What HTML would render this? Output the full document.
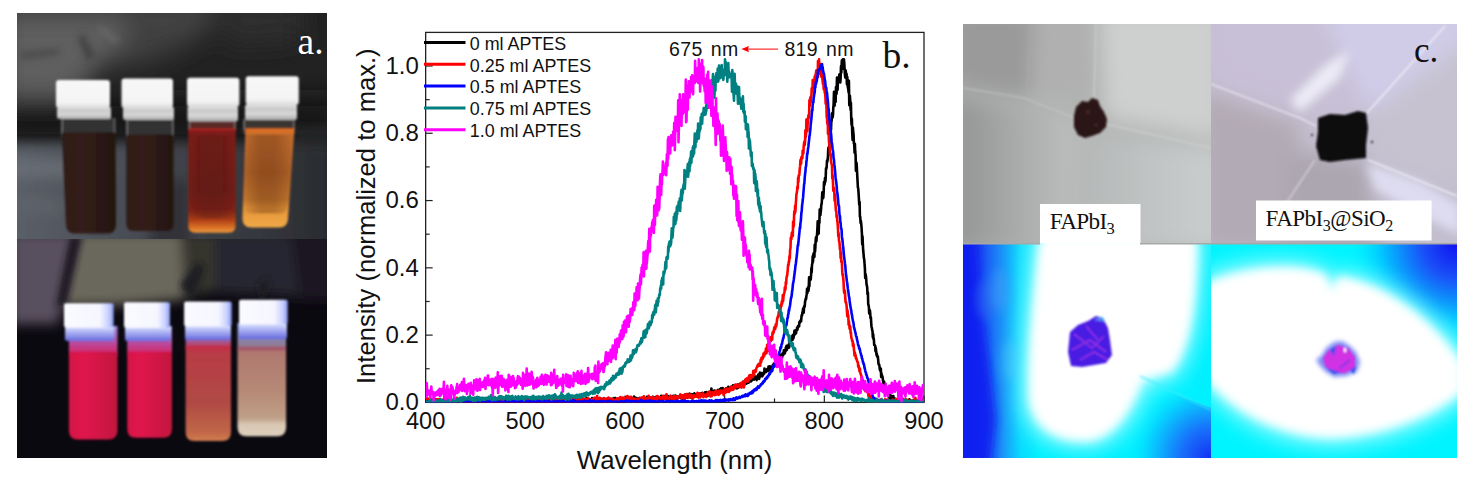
<!DOCTYPE html>
<html><head><meta charset="utf-8"><title>Figure</title>
<style>
html,body{margin:0;padding:0;background:#fff;}
body{width:1474px;height:487px;position:relative;overflow:hidden;font-family:"Liberation Sans", sans-serif;}
.abs{position:absolute;}
</style></head><body>
<svg class="abs" style="left:0;top:0" width="1474" height="487" viewBox="0 0 1474 487">
<defs>
<clipPath id="clipA1"><rect x="17" y="13" width="310" height="226"/></clipPath>
<clipPath id="clipA2"><rect x="17" y="239" width="310" height="219"/></clipPath>
<filter id="ab1" x="-20%" y="-20%" width="140%" height="140%"><feGaussianBlur stdDeviation="0.9"/></filter>
<filter id="ab3" x="-50%" y="-50%" width="200%" height="200%"><feGaussianBlur stdDeviation="3"/></filter>
<filter id="ab6" x="-50%" y="-50%" width="200%" height="200%"><feGaussianBlur stdDeviation="6"/></filter>
<filter id="ab12" x="-50%" y="-50%" width="200%" height="200%"><feGaussianBlur stdDeviation="12"/></filter>
<linearGradient id="capG" x1="0" y1="0" x2="0" y2="1">
 <stop offset="0" stop-color="#f8f8f8"/><stop offset="0.8" stop-color="#f4f4f4"/><stop offset="1" stop-color="#dadada"/></linearGradient>
<linearGradient id="neckG" x1="0" y1="0" x2="0" y2="1">
 <stop offset="0" stop-color="#e4e4e4"/><stop offset="0.3" stop-color="#c8c8c8"/><stop offset="0.6" stop-color="#d8d8d8"/><stop offset="1" stop-color="#a8a8a8"/></linearGradient>
<linearGradient id="tableG" x1="17" y1="0" x2="327" y2="0" gradientUnits="userSpaceOnUse">
 <stop offset="0" stop-color="#5a5f67"/><stop offset="0.3" stop-color="#4c5058"/><stop offset="0.55" stop-color="#3e4148"/><stop offset="0.78" stop-color="#35373d"/><stop offset="1" stop-color="#2a2c30"/></linearGradient>
<linearGradient id="hshade" x1="0" y1="0" x2="1" y2="0">
 <stop offset="0" stop-color="#000" stop-opacity="0"/><stop offset="0.35" stop-color="#401808" stop-opacity="0.3"/><stop offset="0.6" stop-color="#401808" stop-opacity="0.3"/><stop offset="1" stop-color="#000" stop-opacity="0"/></linearGradient>
<linearGradient id="liq1" x1="0" y1="0" x2="1" y2="0">
 <stop offset="0" stop-color="#2e1a16"/><stop offset="0.35" stop-color="#351f1a"/><stop offset="1" stop-color="#22120f"/></linearGradient>
<linearGradient id="liq3" x1="0" y1="0" x2="0" y2="1">
 <stop offset="0" stop-color="#c02020"/><stop offset="0.03" stop-color="#801c1a"/><stop offset="0.6" stop-color="#741c18"/><stop offset="0.78" stop-color="#842218"/><stop offset="0.88" stop-color="#b04018"/><stop offset="0.96" stop-color="#e07a28"/><stop offset="1" stop-color="#e89840"/></linearGradient>
<linearGradient id="liq4" x1="0" y1="0" x2="0" y2="1">
 <stop offset="0" stop-color="#e87020"/><stop offset="0.06" stop-color="#c87030"/><stop offset="0.45" stop-color="#b46428"/><stop offset="0.72" stop-color="#c87a30"/><stop offset="0.8" stop-color="#e69438"/><stop offset="1" stop-color="#f0aa48"/></linearGradient>
<linearGradient id="uvcap" x1="0" y1="0" x2="1" y2="0">
 <stop offset="0" stop-color="#fafbff"/><stop offset="0.72" stop-color="#f6f6ff"/><stop offset="0.9" stop-color="#c8d0ff"/><stop offset="1" stop-color="#8898f0"/></linearGradient>
<linearGradient id="uvneck" x1="0" y1="0" x2="0" y2="1">
 <stop offset="0" stop-color="#e8ecff"/><stop offset="0.3" stop-color="#b8c0f8"/><stop offset="0.7" stop-color="#8c90e8"/><stop offset="1" stop-color="#6068e0"/></linearGradient>
<linearGradient id="uvl1" x1="0" y1="0" x2="1" y2="0">
 <stop offset="0" stop-color="#d41446"/><stop offset="0.3" stop-color="#e0164c"/><stop offset="1" stop-color="#c2123e"/></linearGradient>
<linearGradient id="uvl3" x1="0" y1="0" x2="0" y2="1">
 <stop offset="0" stop-color="#c82848"/><stop offset="0.08" stop-color="#b83c46"/><stop offset="0.6" stop-color="#b04a44"/><stop offset="0.9" stop-color="#c06648"/><stop offset="1" stop-color="#d07c50"/></linearGradient>
<linearGradient id="uvglass3" x1="0" y1="0" x2="0" y2="1">
 <stop offset="0" stop-color="#a098e0"/><stop offset="0.5" stop-color="#9c68b0"/><stop offset="1" stop-color="#b83850"/></linearGradient>
<linearGradient id="uvglass4" x1="0" y1="0" x2="0" y2="1">
 <stop offset="0" stop-color="#98a0e8"/><stop offset="0.5" stop-color="#8088b8"/><stop offset="1" stop-color="#a07078"/></linearGradient>
<linearGradient id="uvl4" x1="0" y1="0" x2="0" y2="1">
 <stop offset="0" stop-color="#a04868"/><stop offset="0.06" stop-color="#b07870"/><stop offset="0.5" stop-color="#b68a76"/><stop offset="0.8" stop-color="#c0a088"/><stop offset="0.87" stop-color="#d8c8b4"/><stop offset="1" stop-color="#dcd0bc"/></linearGradient>
<linearGradient id="uvglass" x1="0" y1="0" x2="0" y2="1">
 <stop offset="0" stop-color="#9c8ce0"/><stop offset="0.45" stop-color="#b058b0"/><stop offset="1" stop-color="#d81c5a"/></linearGradient>
</defs>
<g clip-path="url(#clipA1)">
<rect x="17" y="13" width="310" height="226" fill="#222222"/>
<g filter="url(#ab12)">
<path d="M0,0 L140,0 L125,45 L95,72 L70,100 L0,105 Z" fill="#5e5e5e"/>
<path d="M120,0 L215,0 L205,35 L160,58 L115,70 L125,40 Z" fill="#404040"/>
<path d="M205,0 L300,0 L300,40 L230,45 Z" fill="#2e2e2e"/>
<rect x="0" y="0" width="210" height="18" fill="#474747"/>
<rect x="0" y="98" width="340" height="44" fill="#121214"/>
</g>
<g filter="url(#ab3)" opacity="0.8">
<path d="M82,32 L95,55 L88,62 L78,40 Z" fill="#3c3c3c"/>
<path d="M20,52 L60,48 L58,55 L22,60 Z" fill="#484848"/>
<path d="M100,25 L120,40 L115,44 L98,30 Z" fill="#6a6a6a"/>
</g>
<g filter="url(#ab6)">
<rect x="0" y="143" width="340" height="110" fill="url(#tableG)"/>
<path d="M0,158 L110,162 L110,176 L0,178 Z" fill="#6a7078" opacity="0.8"/>
<path d="M0,195 L60,200 L60,215 L0,212 Z" fill="#60666e" opacity="0.6"/>
<rect x="150" y="180" width="40" height="70" fill="#303238"/>
<rect x="290" y="130" width="50" height="6" fill="#2e3034"/>
</g>
<g filter="url(#ab1)">
<rect x="61" y="118" width="54.5" height="20" fill="#303032"/>
<rect x="61" y="118" width="2" height="16" fill="#8a8a8a" opacity="0.6"/>
<rect x="113.5" y="118" width="2" height="16" fill="#8a8a8a" opacity="0.5"/>
<path d="M62,132.5 L115.5,132.5 L116,224.6 Q116,233.6 107,233.6 L75,233.6 Q66,233.6 66,224.6 Z" fill="url(#liq1)" />
<rect x="57" y="107" width="54" height="12" rx="2" fill="url(#neckG)"/>
<rect x="56" y="80" width="54" height="28" rx="3" fill="url(#capG)"/>
<rect x="126" y="119" width="48" height="22" fill="#303032"/>
<rect x="126" y="119" width="2" height="18" fill="#8a8a8a" opacity="0.6"/>
<rect x="172" y="119" width="2" height="18" fill="#8a8a8a" opacity="0.5"/>
<path d="M126.5,134.8 L173.5,134.8 L173.5,224 Q173.5,231 166.5,231 L133.5,231 Q126.5,231 126.5,224 Z" fill="url(#liq1)" />
<rect x="123" y="107" width="51" height="13" rx="2" fill="url(#neckG)"/>
<rect x="121.5" y="78.5" width="51.5" height="29.5" rx="3" fill="url(#capG)"/>
<rect x="188.3" y="121" width="47.69999999999999" height="13" fill="#5a2c28"/>
<rect x="188.3" y="121" width="2" height="9" fill="#8a8a8a" opacity="0.6"/>
<rect x="234" y="121" width="2" height="9" fill="#8a8a8a" opacity="0.5"/>
<path d="M188.3,128.5 L235.6,128.5 L235.6,225.8 Q235.6,232.8 228.6,232.8 L195.3,232.8 Q188.3,232.8 188.3,225.8 Z" fill="url(#liq3)" />
<path d="M188.3,134.5 L235.6,134.5 L235.6,211.8 Q235.6,218.8 228.6,218.8 L195.3,218.8 Q188.3,218.8 188.3,211.8 Z" fill="url(#hshade)" />
<rect x="187.5" y="106" width="50.5" height="15.599999999999994" rx="2" fill="url(#neckG)"/>
<rect x="187" y="77.7" width="52.400000000000006" height="29.0" rx="3" fill="url(#capG)"/>
<rect x="243" y="119" width="52" height="15" fill="#3a3430"/>
<rect x="243" y="119" width="2" height="11" fill="#8a8a8a" opacity="0.6"/>
<rect x="293" y="119" width="2" height="11" fill="#8a8a8a" opacity="0.5"/>
<path d="M245.5,128.5 L294.5,128.5 L288,218.5 Q288,227.5 279,227.5 L251.4,227.5 Q242.4,227.5 242.4,218.5 Z" fill="url(#liq4)" />
<path d="M245.5,134.5 L294.5,134.5 L288,204.5 Q288,213.5 279,213.5 L251.4,213.5 Q242.4,213.5 242.4,204.5 Z" fill="url(#hshade)" />
<rect x="245" y="104.5" width="52" height="15.5" rx="2" fill="url(#neckG)"/>
<rect x="245.7" y="76.3" width="53.10000000000002" height="28.700000000000003" rx="3" fill="url(#capG)"/>
</g>
<text x="297.5" y="53.6" font-family='"Liberation Serif", serif' font-size="37.5" fill="#fff">a.</text>
</g>
<g clip-path="url(#clipA2)">
<rect x="17" y="239" width="310" height="219" fill="#0b0910"/>
<g filter="url(#ab6)">
<path d="M200,232 L335,232 L335,300 L290,296 L200,292 Z" fill="#282530"/>
<path d="M290,232 L335,232 L335,300 L300,300 Z" fill="#1c1420"/>
<path d="M10,232 L76,232 L62,306 L58,324 L10,324 Z" fill="#584f5e"/>
<path d="M76,232 L185,232 L208,250 L205,285 L180,300 L120,305 L62,306 Z" fill="#6a685c"/>
<path d="M180,232 L215,232 L215,290 L185,298 Z" fill="#36352f"/>
</g>
<g filter="url(#ab3)"><path d="M70,236 L56,306 L66,306 L82,236 Z" fill="#1a1620"/>
<path d="M180,285 L198,262 L205,268 L192,300 Z" fill="#1e1c22"/>
<path d="M258,285 L266,278 L270,284 L262,300 Z" fill="#1e1c22"/></g>
<g filter="url(#ab1)">
<rect x="68.9" y="326" width="48.599999999999994" height="30" fill="url(#uvglass)"/>
<path d="M68.9,352 L117.5,352 L117.5,430.4 Q117.5,439.4 108.5,439.4 L77.9,439.4 Q68.9,439.4 68.9,430.4 Z" fill="url(#uvl1)" />
<rect x="65" y="326" width="49" height="15" rx="2" fill="url(#uvneck)"/>
<rect x="64" y="303.2" width="49.599999999999994" height="24.400000000000034" rx="2" fill="url(#uvcap)"/>
<rect x="127.2" y="326" width="44.8" height="30" fill="url(#uvglass)"/>
<path d="M127.2,352 L172,352 L172,428.8 Q172,437.8 163,437.8 L136.2,437.8 Q127.2,437.8 127.2,428.8 Z" fill="url(#uvl1)" />
<rect x="125" y="326" width="46" height="15" rx="2" fill="url(#uvneck)"/>
<rect x="124" y="302.3" width="46" height="25.5" rx="2" fill="url(#uvcap)"/>
<rect x="185.6" y="325" width="45.400000000000006" height="24.399999999999977" fill="url(#uvglass3)"/>
<path d="M185.6,345.4 L231,345.4 L231,432 Q231,441 222,441 L194.6,441 Q185.6,441 185.6,432 Z" fill="url(#uvl3)" />
<rect x="185" y="325" width="46" height="15" rx="2" fill="url(#uvneck)"/>
<rect x="184.1" y="301.4" width="47.599999999999994" height="24.80000000000001" rx="2" fill="url(#uvcap)"/>
<rect x="237.5" y="323" width="48.60000000000002" height="28" fill="url(#uvglass4)"/>
<path d="M237.5,347 L286.1,347 L286.1,427.2 Q286.1,436.2 277.1,436.2 L246.5,436.2 Q237.5,436.2 237.5,427.2 Z" fill="url(#uvl4)" />
<rect x="239" y="323" width="48" height="16" rx="2" fill="url(#uvneck)"/>
<rect x="239" y="299.7" width="48.69999999999999" height="24.600000000000023" rx="2" fill="url(#uvcap)"/>
</g>
</g>
</svg>
<svg class="abs" width="1474" height="487" viewBox="0 0 1474 487" style="left:0;top:0">
<defs><clipPath id="plotclip"><rect x="425.66" y="32.4" width="498.4" height="370"/></clipPath></defs>
<rect x="425.66" y="32.4" width="498.34" height="370" fill="none" stroke="#222" stroke-width="1.3"/>
<line x1="425.66" y1="402.40" x2="432.66" y2="402.40" stroke="#222" stroke-width="1.2"/>
<line x1="425.66" y1="368.76" x2="429.66" y2="368.76" stroke="#222" stroke-width="1.2"/>
<line x1="425.66" y1="335.12" x2="432.66" y2="335.12" stroke="#222" stroke-width="1.2"/>
<line x1="425.66" y1="301.48" x2="429.66" y2="301.48" stroke="#222" stroke-width="1.2"/>
<line x1="425.66" y1="267.84" x2="432.66" y2="267.84" stroke="#222" stroke-width="1.2"/>
<line x1="425.66" y1="234.20" x2="429.66" y2="234.20" stroke="#222" stroke-width="1.2"/>
<line x1="425.66" y1="200.56" x2="432.66" y2="200.56" stroke="#222" stroke-width="1.2"/>
<line x1="425.66" y1="166.92" x2="429.66" y2="166.92" stroke="#222" stroke-width="1.2"/>
<line x1="425.66" y1="133.28" x2="432.66" y2="133.28" stroke="#222" stroke-width="1.2"/>
<line x1="425.66" y1="99.64" x2="429.66" y2="99.64" stroke="#222" stroke-width="1.2"/>
<line x1="425.66" y1="66.00" x2="432.66" y2="66.00" stroke="#222" stroke-width="1.2"/>
<line x1="425.66" y1="402.4" x2="425.66" y2="395.4" stroke="#222" stroke-width="1.2"/>
<line x1="475.50" y1="402.4" x2="475.50" y2="398.4" stroke="#222" stroke-width="1.2"/>
<line x1="525.33" y1="402.4" x2="525.33" y2="395.4" stroke="#222" stroke-width="1.2"/>
<line x1="575.16" y1="402.4" x2="575.16" y2="398.4" stroke="#222" stroke-width="1.2"/>
<line x1="625.00" y1="402.4" x2="625.00" y2="395.4" stroke="#222" stroke-width="1.2"/>
<line x1="674.84" y1="402.4" x2="674.84" y2="398.4" stroke="#222" stroke-width="1.2"/>
<line x1="724.67" y1="402.4" x2="724.67" y2="395.4" stroke="#222" stroke-width="1.2"/>
<line x1="774.51" y1="402.4" x2="774.51" y2="398.4" stroke="#222" stroke-width="1.2"/>
<line x1="824.34" y1="402.4" x2="824.34" y2="395.4" stroke="#222" stroke-width="1.2"/>
<line x1="874.17" y1="402.4" x2="874.17" y2="398.4" stroke="#222" stroke-width="1.2"/>
<line x1="924.01" y1="402.4" x2="924.01" y2="395.4" stroke="#222" stroke-width="1.2"/>
<g clip-path="url(#plotclip)" fill="none" stroke-width="2.6" stroke-linejoin="round">
<path d="M425.7,401.0 426.0,400.6 426.3,401.1 426.7,402.7 427.0,400.5 427.3,400.9 427.7,401.9 428.0,400.8 428.3,401.0 428.7,401.1 429.0,401.4 429.3,400.8 429.6,402.1 430.0,401.6 430.3,401.9 430.6,400.8 431.0,401.3 431.3,401.7 431.6,402.2 432.0,401.7 432.3,401.4 432.6,401.7 433.0,400.1 433.3,400.4 433.6,403.4 434.0,403.3 434.3,401.6 434.6,401.8 435.0,401.2 435.3,401.2 435.6,399.2 436.0,402.5 436.3,401.8 436.6,399.3 437.0,400.7 437.3,400.7 437.6,401.9 438.0,403.1 438.3,401.2 438.6,401.3 438.9,402.6 439.3,402.1 439.6,401.5 439.9,402.3 440.3,401.5 440.6,401.3 440.9,401.3 441.3,401.9 441.6,400.8 441.9,400.5 442.3,401.0 442.6,402.2 442.9,400.6 443.3,401.9 443.6,400.5 443.9,402.5 444.3,400.4 444.6,401.4 444.9,402.7 445.3,401.7 445.6,401.3 445.9,401.1 446.3,402.4 446.6,402.5 446.9,401.2 447.3,401.8 447.6,401.1 447.9,400.6 448.3,403.1 448.6,401.1 448.9,400.1 449.2,401.7 449.6,402.2 449.9,400.6 450.2,401.1 450.6,400.4 450.9,401.7 451.2,402.9 451.6,401.5 451.9,401.8 452.2,400.6 452.6,401.2 452.9,403.0 453.2,402.6 453.6,400.5 453.9,400.7 454.2,402.0 454.6,401.4 454.9,400.9 455.2,400.9 455.6,400.5 455.9,401.1 456.2,401.4 456.6,401.6 456.9,400.3 457.2,403.4 457.6,401.5 457.9,401.3 458.2,402.8 458.6,401.0 458.9,402.0 459.2,400.5 459.5,401.5 459.9,400.7 460.2,400.1 460.5,400.9 460.9,402.2 461.2,402.9 461.5,399.5 461.9,401.4 462.2,402.0 462.5,401.2 462.9,401.5 463.2,400.5 463.5,401.3 463.9,401.3 464.2,402.1 464.5,400.8 464.9,402.4 465.2,400.6 465.5,399.8 465.9,402.9 466.2,403.4 466.5,400.7 466.9,398.7 467.2,402.3 467.5,402.6 467.9,400.7 468.2,402.2 468.5,401.8 468.9,401.7 469.2,400.8 469.5,401.7 469.8,401.0 470.2,401.5 470.5,402.2 470.8,401.6 471.2,402.3 471.5,401.3 471.8,402.5 472.2,402.4 472.5,399.8 472.8,401.4 473.2,401.4 473.5,400.8 473.8,401.7 474.2,401.5 474.5,400.9 474.8,401.0 475.2,402.5 475.5,400.4 475.8,401.9 476.2,402.4 476.5,402.2 476.8,401.7 477.2,399.6 477.5,402.5 477.8,401.1 478.2,403.4 478.5,401.3 478.8,400.4 479.1,401.5 479.5,401.9 479.8,401.0 480.1,400.6 480.5,400.6 480.8,399.2 481.1,401.1 481.5,401.9 481.8,401.4 482.1,401.3 482.5,401.2 482.8,401.3 483.1,401.1 483.5,403.0 483.8,400.4 484.1,401.8 484.5,402.5 484.8,400.6 485.1,399.9 485.5,400.7 485.8,401.1 486.1,402.2 486.5,398.3 486.8,400.3 487.1,402.4 487.5,402.0 487.8,401.2 488.1,402.8 488.5,401.1 488.8,401.7 489.1,400.0 489.4,400.2 489.8,403.4 490.1,401.2 490.4,402.9 490.8,400.1 491.1,401.1 491.4,400.7 491.8,402.3 492.1,399.3 492.4,399.1 492.8,402.3 493.1,400.8 493.4,401.9 493.8,401.2 494.1,402.5 494.4,399.3 494.8,402.2 495.1,401.5 495.4,400.7 495.8,401.9 496.1,401.4 496.4,401.8 496.8,401.3 497.1,402.4 497.4,401.6 497.8,401.4 498.1,401.5 498.4,401.1 498.8,401.5 499.1,400.4 499.4,401.5 499.7,401.3 500.1,401.9 500.4,401.7 500.7,402.5 501.1,400.6 501.4,402.4 501.7,401.9 502.1,400.8 502.4,400.8 502.7,401.6 503.1,403.2 503.4,400.7 503.7,400.9 504.1,402.6 504.4,400.4 504.7,401.9 505.1,402.3 505.4,401.1 505.7,401.3 506.1,400.9 506.4,402.8 506.7,399.3 507.1,401.8 507.4,402.7 507.7,400.5 508.1,401.5 508.4,400.8 508.7,401.5 509.1,401.2 509.4,400.9 509.7,401.9 510.0,400.4 510.4,401.6 510.7,402.0 511.0,401.1 511.4,400.7 511.7,401.4 512.0,402.0 512.4,400.5 512.7,402.9 513.0,402.2 513.4,401.1 513.7,402.5 514.0,401.1 514.4,401.2 514.7,400.2 515.0,402.0 515.4,401.8 515.7,400.8 516.0,403.4 516.4,397.9 516.7,401.8 517.0,401.8 517.4,400.2 517.7,401.1 518.0,402.9 518.4,400.4 518.7,400.2 519.0,401.6 519.3,401.4 519.7,400.6 520.0,402.0 520.3,400.6 520.7,400.9 521.0,401.8 521.3,402.5 521.7,401.3 522.0,402.0 522.3,400.0 522.7,400.9 523.0,400.3 523.3,400.9 523.7,400.8 524.0,401.9 524.3,400.4 524.7,399.2 525.0,401.4 525.3,401.7 525.7,401.2 526.0,401.5 526.3,401.8 526.7,400.9 527.0,401.3 527.3,399.6 527.7,401.0 528.0,400.7 528.3,400.1 528.7,401.3 529.0,399.6 529.3,401.7 529.6,401.9 530.0,401.4 530.3,401.1 530.6,402.5 531.0,401.1 531.3,402.7 531.6,399.6 532.0,401.1 532.3,401.7 532.6,401.9 533.0,401.4 533.3,401.2 533.6,402.1 534.0,401.9 534.3,401.2 534.6,401.5 535.0,400.0 535.3,399.8 535.6,401.0 536.0,400.5 536.3,402.4 536.6,400.3 537.0,401.0 537.3,400.5 537.6,399.3 538.0,403.3 538.3,400.7 538.6,402.1 539.0,400.4 539.3,402.3 539.6,401.5 539.9,400.8 540.3,400.3 540.6,400.9 540.9,401.8 541.3,401.5 541.6,400.0 541.9,401.0 542.3,402.7 542.6,400.1 542.9,400.5 543.3,400.0 543.6,401.3 543.9,400.1 544.3,402.0 544.6,400.3 544.9,401.4 545.3,400.2 545.6,399.9 545.9,401.7 546.3,401.0 546.6,400.9 546.9,399.7 547.3,400.2 547.6,402.2 547.9,400.4 548.3,400.1 548.6,398.7 548.9,402.6 549.3,401.4 549.6,399.5 549.9,402.3 550.2,402.1 550.6,400.3 550.9,399.8 551.2,401.6 551.6,400.3 551.9,400.7 552.2,399.3 552.6,400.9 552.9,399.8 553.2,401.8 553.6,401.0 553.9,400.9 554.2,399.7 554.6,400.2 554.9,401.6 555.2,400.1 555.6,400.0 555.9,400.9 556.2,401.1 556.6,401.0 556.9,402.6 557.2,400.6 557.6,400.6 557.9,401.7 558.2,400.0 558.6,402.2 558.9,401.4 559.2,401.3 559.6,398.7 559.9,402.4 560.2,400.2 560.5,399.8 560.9,400.4 561.2,399.5 561.5,401.8 561.9,403.1 562.2,400.0 562.5,402.0 562.9,401.1 563.2,402.0 563.5,399.7 563.9,399.8 564.2,401.5 564.5,399.8 564.9,400.6 565.2,400.9 565.5,400.7 565.9,400.9 566.2,400.1 566.5,400.4 566.9,401.1 567.2,399.7 567.5,401.3 567.9,400.4 568.2,400.3 568.5,399.2 568.9,401.2 569.2,398.9 569.5,400.5 569.8,400.9 570.2,401.4 570.5,400.1 570.8,400.6 571.2,401.8 571.5,401.8 571.8,401.2 572.2,401.3 572.5,399.5 572.8,399.2 573.2,399.7 573.5,400.3 573.8,401.1 574.2,400.6 574.5,399.7 574.8,398.4 575.2,399.7 575.5,400.9 575.8,400.6 576.2,401.1 576.5,401.4 576.8,400.8 577.2,400.4 577.5,398.7 577.8,400.5 578.2,399.2 578.5,398.7 578.8,400.5 579.2,398.9 579.5,399.8 579.8,401.0 580.1,400.3 580.5,400.5 580.8,400.8 581.1,400.7 581.5,400.4 581.8,400.1 582.1,401.4 582.5,400.5 582.8,402.1 583.1,400.2 583.5,399.8 583.8,400.3 584.1,400.2 584.5,399.9 584.8,401.2 585.1,400.7 585.5,399.9 585.8,399.4 586.1,400.0 586.5,397.8 586.8,400.5 587.1,399.4 587.5,399.1 587.8,400.6 588.1,401.3 588.5,401.6 588.8,400.2 589.1,399.3 589.5,400.1 589.8,400.2 590.1,400.8 590.4,399.8 590.8,402.6 591.1,400.1 591.4,400.3 591.8,401.8 592.1,398.1 592.4,401.8 592.8,401.5 593.1,401.6 593.4,399.2 593.8,401.3 594.1,399.6 594.4,399.7 594.8,400.0 595.1,401.7 595.4,400.9 595.8,398.6 596.1,401.6 596.4,401.1 596.8,400.4 597.1,399.4 597.4,400.0 597.8,399.5 598.1,401.4 598.4,399.3 598.8,399.7 599.1,401.9 599.4,398.6 599.8,397.8 600.1,401.0 600.4,400.2 600.7,398.8 601.1,401.7 601.4,402.3 601.7,401.5 602.1,400.8 602.4,400.8 602.7,399.5 603.1,399.9 603.4,401.5 603.7,399.6 604.1,398.2 604.4,398.9 604.7,399.1 605.1,400.1 605.4,399.1 605.7,401.1 606.1,399.3 606.4,400.2 606.7,398.9 607.1,399.6 607.4,401.2 607.7,399.9 608.1,398.8 608.4,401.2 608.7,400.6 609.1,400.9 609.4,401.6 609.7,399.0 610.0,398.7 610.4,399.2 610.7,399.8 611.0,400.1 611.4,399.8 611.7,400.8 612.0,399.1 612.4,398.9 612.7,399.0 613.0,400.5 613.4,399.9 613.7,400.1 614.0,398.1 614.4,399.8 614.7,401.9 615.0,399.5 615.4,398.0 615.7,399.2 616.0,399.0 616.4,399.9 616.7,402.0 617.0,401.8 617.4,401.2 617.7,400.0 618.0,399.5 618.4,399.1 618.7,400.2 619.0,398.8 619.4,400.1 619.7,400.6 620.0,398.9 620.3,400.8 620.7,402.7 621.0,400.9 621.3,399.7 621.7,403.0 622.0,400.2 622.3,400.1 622.7,401.3 623.0,401.3 623.3,400.2 623.7,400.3 624.0,398.4 624.3,399.3 624.7,401.4 625.0,400.6 625.3,399.0 625.7,397.7 626.0,399.3 626.3,399.4 626.7,397.7 627.0,399.7 627.3,400.0 627.7,401.1 628.0,400.2 628.3,397.3 628.7,401.1 629.0,399.6 629.3,401.1 629.7,399.4 630.0,398.6 630.3,399.8 630.6,398.8 631.0,398.8 631.3,399.1 631.6,397.7 632.0,398.7 632.3,399.8 632.6,400.2 633.0,400.3 633.3,398.9 633.6,399.8 634.0,396.6 634.3,397.5 634.6,399.6 635.0,399.7 635.3,397.6 635.6,401.3 636.0,399.8 636.3,398.3 636.6,400.3 637.0,399.8 637.3,399.7 637.6,398.6 638.0,399.1 638.3,398.8 638.6,398.6 639.0,399.2 639.3,398.0 639.6,399.9 640.0,400.7 640.3,401.0 640.6,400.8 640.9,399.7 641.3,398.0 641.6,398.9 641.9,399.7 642.3,400.2 642.6,399.6 642.9,399.4 643.3,399.6 643.6,400.5 643.9,399.5 644.3,397.9 644.6,401.2 644.9,399.2 645.3,401.1 645.6,398.7 645.9,399.6 646.3,401.0 646.6,398.7 646.9,396.9 647.3,398.7 647.6,397.5 647.9,398.8 648.3,401.0 648.6,398.2 648.9,399.1 649.3,400.2 649.6,397.8 649.9,398.3 650.2,399.2 650.6,397.7 650.9,399.5 651.2,397.9 651.6,399.5 651.9,397.9 652.2,399.7 652.6,396.9 652.9,398.2 653.2,396.9 653.6,399.3 653.9,398.9 654.2,397.5 654.6,401.3 654.9,399.5 655.2,397.2 655.6,397.8 655.9,397.2 656.2,398.6 656.6,397.6 656.9,399.0 657.2,399.6 657.6,400.0 657.9,398.7 658.2,398.7 658.6,398.8 658.9,401.9 659.2,400.2 659.6,398.6 659.9,397.7 660.2,398.6 660.5,398.9 660.9,400.4 661.2,395.8 661.5,399.1 661.9,396.1 662.2,396.2 662.5,397.5 662.9,398.4 663.2,397.7 663.5,399.0 663.9,397.5 664.2,397.7 664.5,397.1 664.9,396.7 665.2,395.8 665.5,398.1 665.9,396.5 666.2,398.5 666.5,398.5 666.9,398.2 667.2,398.6 667.5,396.5 667.9,396.5 668.2,396.1 668.5,397.5 668.9,397.1 669.2,398.0 669.5,398.6 669.9,396.9 670.2,397.0 670.5,398.5 670.8,396.7 671.2,399.1 671.5,397.4 671.8,397.9 672.2,397.8 672.5,398.3 672.8,396.1 673.2,396.5 673.5,395.8 673.8,396.9 674.2,398.5 674.5,397.4 674.8,398.3 675.2,396.5 675.5,395.6 675.8,396.6 676.2,397.6 676.5,397.3 676.8,396.6 677.2,398.4 677.5,396.6 677.8,396.6 678.2,397.3 678.5,397.2 678.8,396.5 679.2,397.6 679.5,397.5 679.8,395.8 680.2,396.3 680.5,394.7 680.8,397.6 681.1,398.4 681.5,395.4 681.8,395.4 682.1,397.2 682.5,398.0 682.8,396.4 683.1,398.3 683.5,396.7 683.8,398.7 684.1,396.5 684.5,398.5 684.8,396.4 685.1,394.5 685.5,396.4 685.8,395.3 686.1,396.8 686.5,397.0 686.8,397.7 687.1,394.8 687.5,396.0 687.8,394.1 688.1,397.2 688.5,396.1 688.8,395.7 689.1,394.2 689.5,393.7 689.8,396.4 690.1,396.9 690.4,397.6 690.8,394.1 691.1,395.7 691.4,396.3 691.8,395.6 692.1,398.3 692.4,397.4 692.8,394.4 693.1,394.9 693.4,395.2 693.8,396.4 694.1,394.6 694.4,393.3 694.8,396.6 695.1,395.2 695.4,395.6 695.8,394.7 696.1,395.0 696.4,395.2 696.8,396.0 697.1,395.0 697.4,395.6 697.8,395.0 698.1,394.9 698.4,394.1 698.8,395.4 699.1,395.1 699.4,393.5 699.8,394.9 700.1,394.9 700.4,393.6 700.7,394.2 701.1,394.4 701.4,394.2 701.7,395.8 702.1,393.8 702.4,392.8 702.7,393.6 703.1,395.9 703.4,393.8 703.7,395.1 704.1,394.3 704.4,393.9 704.7,395.3 705.1,392.4 705.4,393.9 705.7,392.9 706.1,393.0 706.4,392.2 706.7,392.3 707.1,395.3 707.4,393.5 707.7,395.9 708.1,394.0 708.4,392.6 708.7,392.3 709.1,391.8 709.4,393.7 709.7,392.8 710.1,393.0 710.4,391.6 710.7,391.2 711.0,393.4 711.4,388.6 711.7,392.9 712.0,393.2 712.4,392.1 712.7,391.8 713.0,392.0 713.4,393.3 713.7,390.8 714.0,392.4 714.4,390.6 714.7,390.7 715.0,393.7 715.4,393.3 715.7,393.3 716.0,391.8 716.4,392.0 716.7,391.6 717.0,392.8 717.4,391.3 717.7,390.1 718.0,393.2 718.4,391.8 718.7,391.2 719.0,391.6 719.4,391.6 719.7,389.2 720.0,389.7 720.4,390.2 720.7,392.0 721.0,388.4 721.3,390.5 721.7,391.5 722.0,391.1 722.3,391.2 722.7,388.1 723.0,390.2 723.3,390.3 723.7,392.9 724.0,389.4 724.3,391.4 724.7,391.4 725.0,389.2 725.3,390.9 725.7,388.8 726.0,388.4 726.3,391.7 726.7,389.7 727.0,391.3 727.3,389.4 727.7,388.1 728.0,390.7 728.3,386.9 728.7,389.3 729.0,390.2 729.3,388.9 729.7,387.7 730.0,390.2 730.3,388.4 730.7,390.0 731.0,386.7 731.3,387.9 731.6,388.5 732.0,386.6 732.3,389.3 732.6,388.1 733.0,385.3 733.3,387.6 733.6,385.7 734.0,387.0 734.3,388.0 734.6,387.3 735.0,386.8 735.3,387.3 735.6,387.7 736.0,387.5 736.3,388.3 736.6,386.2 737.0,385.7 737.3,385.2 737.6,388.2 738.0,384.8 738.3,385.7 738.6,387.4 739.0,385.4 739.3,384.3 739.6,384.6 740.0,384.2 740.3,383.8 740.6,383.7 740.9,384.8 741.3,387.2 741.6,385.4 741.9,383.8 742.3,384.7 742.6,383.1 742.9,382.8 743.3,383.6 743.6,381.2 743.9,384.6 744.3,382.0 744.6,383.7 744.9,383.9 745.3,382.0 745.6,383.4 745.9,381.3 746.3,383.8 746.6,382.1 746.9,383.0 747.3,382.1 747.6,382.1 747.9,382.9 748.3,380.4 748.6,382.7 748.9,382.2 749.3,379.6 749.6,379.3 749.9,379.5 750.3,379.8 750.6,377.0 750.9,381.5 751.2,380.7 751.6,380.8 751.9,378.1 752.2,378.8 752.6,377.5 752.9,377.5 753.2,378.9 753.6,379.5 753.9,379.6 754.2,375.1 754.6,376.6 754.9,376.9 755.2,378.0 755.6,377.6 755.9,377.6 756.2,377.4 756.6,380.1 756.9,376.7 757.2,376.9 757.6,375.8 757.9,375.8 758.2,374.7 758.6,375.7 758.9,374.4 759.2,378.9 759.6,376.6 759.9,372.5 760.2,376.4 760.6,374.9 760.9,373.4 761.2,375.4 761.5,373.0 761.9,375.8 762.2,376.3 762.5,375.3 762.9,375.5 763.2,373.0 763.5,373.2 763.9,372.1 764.2,373.8 764.5,368.5 764.9,372.1 765.2,371.8 765.5,370.9 765.9,371.6 766.2,372.0 766.5,370.7 766.9,369.3 767.2,369.4 767.5,368.8 767.9,370.7 768.2,370.8 768.5,366.5 768.9,369.5 769.2,368.2 769.5,367.6 769.9,366.3 770.2,370.2 770.5,368.6 770.9,368.3 771.2,367.8 771.5,370.7 771.8,367.0 772.2,370.9 772.5,365.8 772.8,365.1 773.2,364.7 773.5,367.1 773.8,363.5 774.2,366.0 774.5,366.2 774.8,365.5 775.2,364.9 775.5,363.0 775.8,361.6 776.2,365.8 776.5,363.0 776.8,360.4 777.2,361.1 777.5,360.2 777.8,363.0 778.2,358.7 778.5,362.3 778.8,359.1 779.2,356.8 779.5,355.5 779.8,357.3 780.2,356.3 780.5,358.3 780.8,357.7 781.1,354.5 781.5,356.0 781.8,355.8 782.1,357.5 782.5,354.4 782.8,353.1 783.1,355.1 783.5,354.2 783.8,350.2 784.1,352.1 784.5,352.4 784.8,353.4 785.1,352.1 785.5,350.9 785.8,347.6 786.1,350.6 786.5,345.8 786.8,350.1 787.1,348.5 787.5,345.9 787.8,347.2 788.1,347.8 788.5,345.9 788.8,344.3 789.1,347.7 789.5,344.4 789.8,343.6 790.1,343.5 790.5,340.8 790.8,342.6 791.1,341.6 791.4,340.3 791.8,338.4 792.1,339.5 792.4,335.6 792.8,339.6 793.1,334.8 793.4,338.3 793.8,336.3 794.1,334.7 794.4,330.8 794.8,332.4 795.1,334.3 795.4,330.3 795.8,332.7 796.1,333.2 796.4,330.0 796.8,330.0 797.1,327.6 797.4,329.9 797.8,327.3 798.1,326.0 798.4,325.9 798.8,325.7 799.1,326.3 799.4,322.1 799.8,322.8 800.1,321.1 800.4,321.9 800.8,320.1 801.1,321.3 801.4,317.7 801.7,315.1 802.1,315.3 802.4,312.3 802.7,312.2 803.1,308.5 803.4,310.7 803.7,312.6 804.1,306.3 804.4,306.3 804.7,306.7 805.1,301.3 805.4,300.6 805.7,298.6 806.1,298.9 806.4,296.0 806.7,294.2 807.1,288.7 807.4,293.2 807.7,289.8 808.1,287.2 808.4,291.0 808.7,289.0 809.1,277.2 809.4,286.1 809.7,278.0 810.1,280.1 810.4,278.1 810.7,279.7 811.1,274.8 811.4,268.1 811.7,272.3 812.0,264.6 812.4,263.4 812.7,256.3 813.0,261.6 813.4,254.3 813.7,253.3 814.0,254.8 814.4,256.9 814.7,244.8 815.0,251.8 815.4,246.8 815.7,240.2 816.0,237.3 816.4,241.5 816.7,236.6 817.0,235.2 817.4,228.2 817.7,221.4 818.0,234.1 818.4,222.4 818.7,233.5 819.0,221.2 819.4,223.0 819.7,209.6 820.0,213.9 820.4,215.0 820.7,211.9 821.0,209.9 821.3,204.7 821.7,203.7 822.0,198.2 822.3,192.4 822.7,193.3 823.0,198.4 823.3,197.6 823.7,191.7 824.0,182.0 824.3,185.1 824.7,183.9 825.0,178.0 825.3,181.8 825.7,178.0 826.0,168.3 826.3,168.9 826.7,166.8 827.0,160.6 827.3,161.7 827.7,159.3 828.0,155.5 828.3,147.9 828.7,147.5 829.0,150.5 829.3,143.6 829.7,136.4 830.0,128.0 830.3,139.6 830.7,129.9 831.0,130.0 831.3,122.0 831.6,121.0 832.0,113.2 832.3,115.1 832.6,117.6 833.0,114.9 833.3,107.4 833.6,104.8 834.0,91.8 834.3,93.0 834.6,105.6 835.0,95.3 835.3,102.1 835.6,101.9 836.0,87.2 836.3,86.6 836.6,93.6 837.0,77.5 837.3,90.1 837.6,89.6 838.0,78.1 838.3,78.9 838.6,79.5 839.0,77.5 839.3,74.5 839.6,75.1 840.0,74.0 840.3,82.5 840.6,78.3 841.0,66.2 841.3,72.8 841.6,64.9 841.9,60.2 842.3,68.8 842.6,64.7 842.9,59.3 843.3,62.0 843.6,59.3 843.9,59.3 844.3,63.2 844.6,69.1 844.9,74.6 845.3,77.6 845.6,70.3 845.9,72.2 846.3,77.8 846.6,74.1 846.9,84.3 847.3,77.0 847.6,85.1 847.9,87.6 848.3,89.5 848.6,92.3 848.9,80.9 849.3,105.2 849.6,98.5 849.9,95.8 850.3,101.6 850.6,110.0 850.9,102.8 851.3,120.3 851.6,124.8 851.9,118.8 852.2,132.1 852.6,139.9 852.9,127.5 853.2,131.3 853.6,134.8 853.9,143.8 854.2,144.0 854.6,152.6 854.9,143.8 855.2,151.5 855.6,155.3 855.9,170.8 856.2,162.4 856.6,163.3 856.9,168.5 857.2,174.5 857.6,181.9 857.9,187.6 858.2,188.1 858.6,193.4 858.9,198.4 859.2,204.8 859.6,201.8 859.9,216.6 860.2,216.7 860.6,222.8 860.9,221.1 861.2,223.7 861.6,228.2 861.9,233.5 862.2,244.1 862.5,236.3 862.9,245.0 863.2,250.5 863.5,253.5 863.9,258.1 864.2,259.2 864.5,263.0 864.9,268.4 865.2,278.0 865.5,274.1 865.9,276.0 866.2,279.1 866.5,284.2 866.9,285.7 867.2,287.4 867.5,294.3 867.9,292.5 868.2,303.9 868.5,305.1 868.9,307.1 869.2,313.5 869.5,312.8 869.9,310.4 870.2,313.1 870.5,318.2 870.9,317.2 871.2,322.8 871.5,326.7 871.8,327.4 872.2,330.4 872.5,330.7 872.8,337.2 873.2,334.3 873.5,339.1 873.8,338.5 874.2,344.9 874.5,344.6 874.8,345.5 875.2,345.8 875.5,351.2 875.8,347.8 876.2,351.5 876.5,354.8 876.8,353.5 877.2,356.8 877.5,356.6 877.8,356.2 878.2,360.1 878.5,363.6 878.8,364.8 879.2,364.6 879.5,366.4 879.8,369.4 880.2,370.5 880.5,369.8 880.8,368.6 881.2,377.0 881.5,373.4 881.8,375.9 882.1,375.7 882.5,376.8 882.8,379.0 883.1,381.5 883.5,383.0 883.8,384.6 884.1,381.6 884.5,384.4 884.8,385.7 885.1,386.3 885.5,388.4 885.8,387.3 886.1,387.0 886.5,388.1 886.8,392.2 887.1,389.6 887.5,393.0 887.8,395.1 888.1,395.1 888.5,395.6 888.8,395.2 889.1,397.0 889.5,398.1 889.8,397.3 890.1,395.4 890.5,398.6 890.8,397.7 891.1,398.3 891.5,395.7 891.8,400.7 892.1,397.6 892.4,400.3 892.8,399.7 893.1,399.3 893.4,396.0 893.8,400.3 894.1,401.6 894.4,398.3 894.8,400.7 895.1,400.2 895.4,400.0 895.8,400.0 896.1,400.4 896.4,400.0 896.8,400.0 897.1,399.6 897.4,401.0 897.8,401.4 898.1,401.8 898.4,400.1 898.8,400.9 899.1,400.3 899.4,400.4 899.8,399.3 900.1,400.8 900.4,400.3 900.8,402.4 901.1,402.3 901.4,401.5 901.8,402.5 902.1,400.6 902.4,402.7 902.7,401.3 903.1,403.4 903.4,402.5 903.7,401.7 904.1,401.7 904.4,403.2 904.7,401.3 905.1,400.4 905.4,400.8 905.7,402.1 906.1,402.1 906.4,402.7 906.7,400.8 907.1,400.0 907.4,402.0 907.7,403.2 908.1,401.3 908.4,400.8 908.7,403.4 909.1,401.4 909.4,399.3 909.7,400.7 910.1,401.0 910.4,401.2 910.7,400.5 911.1,402.5 911.4,402.5 911.7,401.2 912.0,402.3 912.4,401.3 912.7,403.4 913.0,400.9 913.4,400.8 913.7,401.6 914.0,401.5 914.4,400.0 914.7,402.8 915.0,402.6 915.4,402.8 915.7,402.1 916.0,402.7 916.4,401.6 916.7,402.3 917.0,403.2 917.4,403.3 917.7,400.5 918.0,401.8 918.4,401.9 918.7,401.7 919.0,401.8 919.4,400.9 919.7,401.1 920.0,402.3 920.4,402.6 920.7,402.8 921.0,403.0 921.4,400.3 921.7,402.7 922.0,403.4 922.3,402.6 922.7,402.5 923.0,401.4 923.3,402.6 923.7,401.2 924.0,401.3" stroke="#000000" />
<path d="M425.7,399.7 426.0,398.5 426.3,397.5 426.7,399.6 427.0,403.0 427.3,401.9 427.7,401.1 428.0,398.6 428.3,400.5 428.7,399.8 429.0,401.6 429.3,400.6 429.6,400.4 430.0,402.0 430.3,400.3 430.6,399.9 431.0,401.6 431.3,400.0 431.6,399.2 432.0,401.3 432.3,401.4 432.6,401.8 433.0,402.2 433.3,401.2 433.6,401.9 434.0,401.8 434.3,402.4 434.6,403.4 435.0,402.7 435.3,400.9 435.6,403.0 436.0,402.3 436.3,399.2 436.6,399.9 437.0,402.3 437.3,400.6 437.6,402.3 438.0,399.2 438.3,402.2 438.6,401.3 438.9,399.5 439.3,402.5 439.6,399.6 439.9,402.5 440.3,401.1 440.6,401.8 440.9,401.5 441.3,401.2 441.6,401.5 441.9,402.8 442.3,400.2 442.6,400.4 442.9,399.6 443.3,399.5 443.6,403.2 443.9,399.6 444.3,399.6 444.6,402.1 444.9,400.0 445.3,399.4 445.6,402.1 445.9,403.2 446.3,401.9 446.6,397.6 446.9,401.1 447.3,403.0 447.6,401.7 447.9,402.7 448.3,401.9 448.6,401.2 448.9,403.4 449.2,400.9 449.6,399.4 449.9,401.6 450.2,401.9 450.6,399.9 450.9,403.1 451.2,403.1 451.6,403.2 451.9,401.6 452.2,400.8 452.6,401.5 452.9,400.6 453.2,400.2 453.6,400.7 453.9,402.5 454.2,401.7 454.6,399.7 454.9,402.8 455.2,401.7 455.6,401.9 455.9,401.6 456.2,402.8 456.6,403.2 456.9,397.9 457.2,400.1 457.6,402.3 457.9,401.4 458.2,400.4 458.6,401.8 458.9,400.5 459.2,402.2 459.5,401.8 459.9,401.5 460.2,402.0 460.5,403.4 460.9,401.3 461.2,401.0 461.5,400.7 461.9,402.7 462.2,400.9 462.5,401.0 462.9,403.4 463.2,403.4 463.5,400.7 463.9,402.6 464.2,400.0 464.5,398.4 464.9,402.1 465.2,402.3 465.5,401.3 465.9,400.4 466.2,402.9 466.5,399.6 466.9,400.0 467.2,400.4 467.5,402.1 467.9,400.1 468.2,400.2 468.5,402.9 468.9,398.5 469.2,401.7 469.5,400.8 469.8,402.0 470.2,400.8 470.5,399.7 470.8,402.4 471.2,403.4 471.5,401.9 471.8,403.1 472.2,402.3 472.5,401.5 472.8,401.4 473.2,399.5 473.5,402.7 473.8,400.8 474.2,402.0 474.5,399.4 474.8,397.9 475.2,400.9 475.5,399.0 475.8,402.0 476.2,403.4 476.5,403.0 476.8,403.4 477.2,402.6 477.5,401.6 477.8,399.7 478.2,400.3 478.5,400.6 478.8,401.9 479.1,402.3 479.5,401.2 479.8,401.1 480.1,400.9 480.5,400.8 480.8,401.4 481.1,403.4 481.5,402.8 481.8,402.4 482.1,399.0 482.5,401.8 482.8,400.3 483.1,399.3 483.5,400.8 483.8,401.8 484.1,401.7 484.5,402.6 484.8,400.8 485.1,399.7 485.5,400.5 485.8,400.2 486.1,400.3 486.5,398.5 486.8,402.1 487.1,401.0 487.5,400.3 487.8,399.5 488.1,403.4 488.5,401.9 488.8,401.5 489.1,402.6 489.4,400.1 489.8,400.9 490.1,401.8 490.4,403.4 490.8,403.0 491.1,402.6 491.4,400.6 491.8,402.9 492.1,403.4 492.4,403.2 492.8,402.0 493.1,398.9 493.4,397.8 493.8,401.9 494.1,399.9 494.4,399.3 494.8,399.5 495.1,401.4 495.4,403.0 495.8,401.9 496.1,403.4 496.4,400.9 496.8,400.1 497.1,403.4 497.4,401.3 497.8,400.8 498.1,399.5 498.4,399.3 498.8,400.1 499.1,402.1 499.4,401.7 499.7,399.5 500.1,402.0 500.4,401.2 500.7,399.1 501.1,401.0 501.4,403.0 501.7,401.6 502.1,400.3 502.4,401.4 502.7,399.6 503.1,399.4 503.4,402.1 503.7,401.9 504.1,401.3 504.4,402.8 504.7,400.6 505.1,401.4 505.4,400.1 505.7,402.0 506.1,402.4 506.4,398.7 506.7,402.3 507.1,401.9 507.4,402.1 507.7,401.6 508.1,402.4 508.4,401.2 508.7,402.1 509.1,401.7 509.4,400.6 509.7,400.2 510.0,400.5 510.4,402.1 510.7,400.6 511.0,401.3 511.4,401.3 511.7,403.4 512.0,400.2 512.4,401.3 512.7,398.8 513.0,400.2 513.4,402.6 513.7,403.0 514.0,399.5 514.4,402.3 514.7,400.2 515.0,401.5 515.4,398.2 515.7,401.0 516.0,399.0 516.4,399.3 516.7,401.7 517.0,401.5 517.4,399.1 517.7,401.1 518.0,402.3 518.4,399.4 518.7,397.6 519.0,401.1 519.3,399.2 519.7,401.3 520.0,399.2 520.3,401.4 520.7,399.2 521.0,400.3 521.3,401.3 521.7,400.7 522.0,401.8 522.3,402.5 522.7,402.4 523.0,401.1 523.3,402.4 523.7,400.4 524.0,400.3 524.3,400.3 524.7,401.7 525.0,400.9 525.3,401.0 525.7,399.2 526.0,402.1 526.3,401.5 526.7,401.3 527.0,401.1 527.3,402.0 527.7,401.8 528.0,399.6 528.3,401.8 528.7,399.7 529.0,398.2 529.3,399.2 529.6,403.4 530.0,399.9 530.3,400.3 530.6,400.2 531.0,403.1 531.3,399.9 531.6,402.4 532.0,399.2 532.3,399.5 532.6,397.4 533.0,401.4 533.3,403.0 533.6,399.5 534.0,399.7 534.3,401.4 534.6,399.1 535.0,400.0 535.3,402.7 535.6,401.4 536.0,401.5 536.3,401.1 536.6,400.6 537.0,401.8 537.3,401.2 537.6,400.1 538.0,401.0 538.3,401.3 538.6,401.3 539.0,401.0 539.3,403.4 539.6,400.7 539.9,402.3 540.3,400.7 540.6,402.9 540.9,399.6 541.3,400.5 541.6,402.7 541.9,400.5 542.3,401.9 542.6,398.4 542.9,400.2 543.3,401.9 543.6,400.5 543.9,400.9 544.3,399.2 544.6,400.3 544.9,400.1 545.3,402.4 545.6,399.7 545.9,398.0 546.3,399.9 546.6,400.9 546.9,400.6 547.3,402.1 547.6,400.6 547.9,402.3 548.3,400.7 548.6,401.3 548.9,401.9 549.3,400.0 549.6,402.8 549.9,400.8 550.2,402.6 550.6,398.3 550.9,398.1 551.2,399.6 551.6,398.2 551.9,400.0 552.2,400.0 552.6,401.3 552.9,402.0 553.2,400.6 553.6,401.5 553.9,401.3 554.2,399.7 554.6,400.9 554.9,402.9 555.2,401.0 555.6,401.8 555.9,401.1 556.2,402.2 556.6,399.1 556.9,398.1 557.2,402.2 557.6,399.8 557.9,399.9 558.2,402.2 558.6,400.6 558.9,398.8 559.2,399.5 559.6,398.5 559.9,402.3 560.2,401.7 560.5,400.3 560.9,400.2 561.2,400.6 561.5,401.2 561.9,401.2 562.2,401.5 562.5,400.1 562.9,403.4 563.2,398.5 563.5,401.4 563.9,402.6 564.2,399.9 564.5,402.6 564.9,400.1 565.2,401.2 565.5,399.8 565.9,399.6 566.2,398.9 566.5,401.3 566.9,401.0 567.2,400.7 567.5,402.6 567.9,399.8 568.2,400.4 568.5,402.5 568.9,399.0 569.2,398.8 569.5,402.4 569.8,399.8 570.2,398.9 570.5,399.5 570.8,401.9 571.2,402.5 571.5,400.7 571.8,401.3 572.2,400.6 572.5,400.7 572.8,399.9 573.2,401.3 573.5,400.8 573.8,396.5 574.2,400.7 574.5,399.6 574.8,400.2 575.2,400.3 575.5,401.8 575.8,399.8 576.2,400.6 576.5,399.4 576.8,397.7 577.2,400.3 577.5,399.5 577.8,401.9 578.2,400.4 578.5,398.4 578.8,400.6 579.2,401.4 579.5,400.2 579.8,400.7 580.1,400.8 580.5,401.0 580.8,397.8 581.1,401.7 581.5,401.0 581.8,401.2 582.1,398.8 582.5,400.8 582.8,398.7 583.1,400.2 583.5,400.5 583.8,402.4 584.1,398.8 584.5,399.7 584.8,399.9 585.1,400.6 585.5,401.0 585.8,402.1 586.1,399.1 586.5,400.0 586.8,400.9 587.1,401.3 587.5,400.2 587.8,400.5 588.1,398.1 588.5,399.3 588.8,401.2 589.1,401.9 589.5,400.7 589.8,401.6 590.1,400.2 590.4,399.8 590.8,399.5 591.1,399.8 591.4,400.6 591.8,399.5 592.1,401.5 592.4,400.4 592.8,399.2 593.1,399.9 593.4,402.0 593.8,401.9 594.1,402.5 594.4,397.8 594.8,402.4 595.1,400.4 595.4,397.7 595.8,398.8 596.1,398.4 596.4,400.9 596.8,399.2 597.1,396.0 597.4,400.3 597.8,399.6 598.1,400.6 598.4,400.2 598.8,399.7 599.1,398.3 599.4,401.4 599.8,402.1 600.1,400.1 600.4,399.9 600.7,398.2 601.1,399.2 601.4,401.0 601.7,399.3 602.1,398.6 602.4,399.7 602.7,400.6 603.1,399.2 603.4,400.6 603.7,402.6 604.1,398.3 604.4,401.8 604.7,400.5 605.1,400.5 605.4,400.5 605.7,400.4 606.1,402.0 606.4,399.3 606.7,400.0 607.1,400.0 607.4,398.6 607.7,398.5 608.1,398.2 608.4,397.5 608.7,399.4 609.1,402.1 609.4,399.7 609.7,400.0 610.0,399.9 610.4,400.8 610.7,401.2 611.0,398.9 611.4,398.6 611.7,401.5 612.0,399.2 612.4,400.2 612.7,400.5 613.0,399.0 613.4,400.0 613.7,400.7 614.0,399.8 614.4,402.6 614.7,400.7 615.0,400.5 615.4,401.8 615.7,399.6 616.0,399.5 616.4,400.7 616.7,400.1 617.0,398.9 617.4,398.4 617.7,400.9 618.0,399.4 618.4,398.4 618.7,399.9 619.0,400.9 619.4,400.9 619.7,400.3 620.0,401.2 620.3,397.0 620.7,400.6 621.0,399.3 621.3,399.5 621.7,398.9 622.0,400.3 622.3,401.5 622.7,397.5 623.0,399.9 623.3,399.6 623.7,399.5 624.0,398.0 624.3,398.7 624.7,398.1 625.0,398.6 625.3,399.5 625.7,399.3 626.0,400.7 626.3,402.3 626.7,400.0 627.0,401.1 627.3,396.1 627.7,397.5 628.0,398.0 628.3,400.4 628.7,396.8 629.0,402.0 629.3,401.3 629.7,400.7 630.0,400.9 630.3,399.4 630.6,399.3 631.0,396.9 631.3,398.2 631.6,397.8 632.0,398.9 632.3,399.7 632.6,400.4 633.0,401.6 633.3,400.7 633.6,400.0 634.0,398.4 634.3,401.8 634.6,401.3 635.0,399.1 635.3,400.9 635.6,398.9 636.0,400.0 636.3,400.4 636.6,401.2 637.0,399.5 637.3,400.3 637.6,400.2 638.0,400.2 638.3,399.0 638.6,399.1 639.0,401.6 639.3,399.5 639.6,398.7 640.0,397.8 640.3,398.1 640.6,398.9 640.9,400.8 641.3,400.2 641.6,397.9 641.9,400.1 642.3,397.7 642.6,397.4 642.9,400.6 643.3,398.5 643.6,399.2 643.9,396.3 644.3,397.9 644.6,399.7 644.9,398.5 645.3,400.3 645.6,399.2 645.9,398.7 646.3,398.8 646.6,398.5 646.9,400.2 647.3,401.5 647.6,399.4 647.9,400.1 648.3,399.8 648.6,395.9 648.9,397.2 649.3,399.1 649.6,400.8 649.9,400.6 650.2,398.3 650.6,397.3 650.9,399.1 651.2,398.5 651.6,398.4 651.9,397.2 652.2,401.3 652.6,398.4 652.9,398.1 653.2,397.3 653.6,398.1 653.9,400.1 654.2,399.4 654.6,400.7 654.9,398.3 655.2,398.3 655.6,397.8 655.9,399.8 656.2,400.1 656.6,396.3 656.9,398.2 657.2,396.0 657.6,397.8 657.9,400.4 658.2,397.3 658.6,396.6 658.9,399.0 659.2,401.0 659.6,397.4 659.9,398.5 660.2,397.9 660.5,402.0 660.9,397.6 661.2,402.0 661.5,399.4 661.9,397.0 662.2,400.7 662.5,400.7 662.9,398.8 663.2,395.8 663.5,395.8 663.9,398.9 664.2,396.7 664.5,397.2 664.9,397.7 665.2,397.5 665.5,399.0 665.9,396.9 666.2,396.5 666.5,394.2 666.9,396.6 667.2,401.3 667.5,399.6 667.9,397.4 668.2,397.8 668.5,400.4 668.9,398.0 669.2,398.3 669.5,397.8 669.9,397.9 670.2,396.5 670.5,395.7 670.8,396.7 671.2,399.2 671.5,398.9 671.8,398.6 672.2,397.7 672.5,398.2 672.8,398.1 673.2,398.9 673.5,396.2 673.8,396.3 674.2,396.2 674.5,397.6 674.8,396.8 675.2,398.7 675.5,398.8 675.8,398.2 676.2,396.6 676.5,397.6 676.8,398.9 677.2,397.2 677.5,396.7 677.8,397.0 678.2,398.2 678.5,397.1 678.8,397.8 679.2,397.6 679.5,397.3 679.8,396.1 680.2,394.5 680.5,394.9 680.8,396.2 681.1,397.6 681.5,397.4 681.8,397.4 682.1,395.3 682.5,400.8 682.8,396.5 683.1,399.7 683.5,396.9 683.8,395.0 684.1,398.1 684.5,400.0 684.8,394.9 685.1,394.6 685.5,396.0 685.8,394.9 686.1,397.8 686.5,395.0 686.8,394.2 687.1,395.7 687.5,396.1 687.8,394.7 688.1,394.9 688.5,397.5 688.8,394.5 689.1,395.4 689.5,396.1 689.8,394.5 690.1,395.0 690.4,395.2 690.8,397.0 691.1,395.1 691.4,397.8 691.8,396.3 692.1,398.5 692.4,398.5 692.8,395.5 693.1,396.2 693.4,395.9 693.8,395.1 694.1,395.5 694.4,397.2 694.8,395.8 695.1,396.0 695.4,396.6 695.8,396.0 696.1,396.3 696.4,396.7 696.8,396.2 697.1,395.3 697.4,392.7 697.8,396.8 698.1,394.8 698.4,397.6 698.8,393.2 699.1,395.9 699.4,395.2 699.8,393.6 700.1,393.9 700.4,397.4 700.7,394.5 701.1,395.6 701.4,394.3 701.7,395.0 702.1,394.1 702.4,394.7 702.7,395.3 703.1,393.3 703.4,397.2 703.7,395.6 704.1,396.3 704.4,395.1 704.7,395.4 705.1,395.0 705.4,395.4 705.7,395.4 706.1,397.0 706.4,394.6 706.7,394.1 707.1,395.4 707.4,395.4 707.7,395.3 708.1,392.0 708.4,394.1 708.7,393.7 709.1,394.7 709.4,394.9 709.7,395.4 710.1,391.9 710.4,396.5 710.7,393.5 711.0,394.0 711.4,394.2 711.7,396.1 712.0,395.5 712.4,392.3 712.7,394.7 713.0,392.3 713.4,392.6 713.7,392.7 714.0,392.3 714.4,395.1 714.7,394.0 715.0,392.3 715.4,395.0 715.7,390.7 716.0,393.9 716.4,393.1 716.7,394.4 717.0,392.3 717.4,393.9 717.7,393.1 718.0,394.3 718.4,390.9 718.7,394.9 719.0,391.8 719.4,392.0 719.7,391.6 720.0,393.7 720.4,390.6 720.7,390.6 721.0,391.7 721.3,391.4 721.7,392.0 722.0,390.7 722.3,392.8 722.7,390.7 723.0,390.8 723.3,393.4 723.7,395.1 724.0,391.3 724.3,391.3 724.7,389.1 725.0,390.7 725.3,391.4 725.7,392.6 726.0,390.6 726.3,391.3 726.7,391.9 727.0,390.4 727.3,388.5 727.7,389.8 728.0,391.4 728.3,389.2 728.7,391.3 729.0,391.8 729.3,388.6 729.7,390.1 730.0,387.5 730.3,388.6 730.7,390.1 731.0,388.4 731.3,386.7 731.6,388.8 732.0,390.0 732.3,389.3 732.6,389.4 733.0,389.8 733.3,389.8 733.6,387.1 734.0,385.9 734.3,388.0 734.6,386.1 735.0,385.8 735.3,384.5 735.6,387.2 736.0,387.3 736.3,386.0 736.6,386.3 737.0,385.9 737.3,384.2 737.6,386.7 738.0,385.6 738.3,387.2 738.6,385.8 739.0,386.5 739.3,386.4 739.6,385.4 740.0,385.6 740.3,384.2 740.6,383.3 740.9,386.7 741.3,382.7 741.6,387.5 741.9,383.4 742.3,382.5 742.6,384.4 742.9,383.6 743.3,384.2 743.6,381.4 743.9,387.5 744.3,383.8 744.6,385.1 744.9,381.5 745.3,379.5 745.6,379.5 745.9,380.0 746.3,380.4 746.6,381.8 746.9,378.3 747.3,379.0 747.6,381.1 747.9,381.5 748.3,380.2 748.6,377.1 748.9,376.5 749.3,375.6 749.6,379.2 749.9,378.2 750.3,375.0 750.6,376.5 750.9,375.3 751.2,378.3 751.6,376.4 751.9,375.4 752.2,375.5 752.6,375.2 752.9,376.8 753.2,371.0 753.6,373.0 753.9,375.3 754.2,370.6 754.6,371.8 754.9,370.2 755.2,371.3 755.6,371.8 755.9,371.3 756.2,368.9 756.6,367.6 756.9,367.6 757.2,366.8 757.6,365.3 757.9,366.4 758.2,364.6 758.6,363.9 758.9,364.7 759.2,364.8 759.6,364.9 759.9,365.7 760.2,365.7 760.6,360.0 760.9,361.8 761.2,362.2 761.5,357.7 761.9,358.2 762.2,359.3 762.5,356.9 762.9,358.5 763.2,356.9 763.5,353.5 763.9,354.3 764.2,356.1 764.5,353.7 764.9,352.1 765.2,353.8 765.5,353.7 765.9,348.6 766.2,352.0 766.5,353.2 766.9,349.6 767.2,344.7 767.5,347.1 767.9,345.7 768.2,351.0 768.5,347.0 768.9,342.7 769.2,345.0 769.5,340.7 769.9,341.5 770.2,340.8 770.5,337.3 770.9,340.9 771.2,339.9 771.5,337.8 771.8,336.6 772.2,339.7 772.5,332.6 772.8,333.8 773.2,333.6 773.5,331.0 773.8,332.1 774.2,327.7 774.5,329.1 774.8,326.7 775.2,329.2 775.5,326.8 775.8,324.3 776.2,326.2 776.5,324.5 776.8,322.1 777.2,318.4 777.5,318.1 777.8,316.6 778.2,316.9 778.5,314.4 778.8,311.7 779.2,313.7 779.5,311.9 779.8,310.3 780.2,315.1 780.5,309.3 780.8,306.8 781.1,304.6 781.5,305.9 781.8,301.3 782.1,303.8 782.5,301.2 782.8,295.1 783.1,301.1 783.5,296.3 783.8,294.9 784.1,293.1 784.5,292.5 784.8,287.6 785.1,290.2 785.5,288.8 785.8,282.0 786.1,284.2 786.5,277.7 786.8,276.3 787.1,275.8 787.5,272.3 787.8,269.1 788.1,264.9 788.5,265.3 788.8,261.4 789.1,262.2 789.5,256.1 789.8,258.2 790.1,249.9 790.5,248.3 790.8,237.7 791.1,237.4 791.4,239.1 791.8,233.0 792.1,232.4 792.4,234.4 792.8,235.9 793.1,221.7 793.4,221.3 793.8,226.4 794.1,214.9 794.4,211.2 794.8,213.8 795.1,205.9 795.4,211.8 795.8,203.7 796.1,199.9 796.4,194.4 796.8,192.9 797.1,190.8 797.4,186.7 797.8,188.5 798.1,177.8 798.4,181.9 798.8,175.0 799.1,175.5 799.4,173.9 799.8,168.2 800.1,166.4 800.4,160.5 800.8,159.3 801.1,163.7 801.4,157.3 801.7,156.9 802.1,158.6 802.4,157.9 802.7,150.5 803.1,151.8 803.4,153.5 803.7,146.2 804.1,143.0 804.4,141.6 804.7,145.2 805.1,140.6 805.4,130.3 805.7,137.3 806.1,133.3 806.4,119.6 806.7,125.7 807.1,127.1 807.4,131.1 807.7,118.7 808.1,123.8 808.4,115.2 808.7,116.5 809.1,117.8 809.4,100.2 809.7,105.9 810.1,98.8 810.4,97.4 810.7,102.1 811.1,96.2 811.4,96.3 811.7,88.2 812.0,89.0 812.4,91.2 812.7,80.0 813.0,84.0 813.4,82.7 813.7,87.2 814.0,79.8 814.4,87.4 814.7,76.5 815.0,81.9 815.4,75.0 815.7,75.9 816.0,72.1 816.4,70.2 816.7,71.1 817.0,70.1 817.4,76.3 817.7,77.5 818.0,61.0 818.4,63.9 818.7,73.8 819.0,59.3 819.4,69.6 819.7,63.6 820.0,64.5 820.4,66.9 820.7,65.4 821.0,76.5 821.3,71.3 821.7,74.0 822.0,74.2 822.3,77.9 822.7,81.7 823.0,84.3 823.3,78.6 823.7,89.2 824.0,85.6 824.3,87.9 824.7,92.4 825.0,92.7 825.3,95.2 825.7,103.6 826.0,103.1 826.3,99.7 826.7,117.2 827.0,117.6 827.3,123.6 827.7,115.4 828.0,134.1 828.3,131.7 828.7,131.3 829.0,142.5 829.3,142.9 829.7,148.8 830.0,154.9 830.3,153.1 830.7,154.3 831.0,161.4 831.3,162.7 831.6,164.1 832.0,165.6 832.3,178.4 832.6,174.7 833.0,182.8 833.3,190.8 833.6,189.9 834.0,188.0 834.3,192.5 834.6,200.8 835.0,194.3 835.3,201.8 835.6,206.7 836.0,211.5 836.3,211.4 836.6,217.3 837.0,215.3 837.3,221.2 837.6,223.3 838.0,229.5 838.3,236.3 838.6,233.0 839.0,241.0 839.3,241.3 839.6,244.1 840.0,249.6 840.3,247.8 840.6,257.9 841.0,252.6 841.3,262.0 841.6,260.8 841.9,263.1 842.3,272.4 842.6,275.3 842.9,273.9 843.3,279.1 843.6,282.5 843.9,290.6 844.3,293.0 844.6,290.3 844.9,290.9 845.3,299.0 845.6,302.0 845.9,301.9 846.3,303.7 846.6,305.8 846.9,310.5 847.3,316.2 847.6,310.5 847.9,317.2 848.3,315.3 848.6,324.7 848.9,321.5 849.3,325.4 849.6,328.6 849.9,326.0 850.3,327.2 850.6,333.1 850.9,332.3 851.3,337.6 851.6,338.4 851.9,339.3 852.2,341.2 852.6,340.8 852.9,346.0 853.2,343.3 853.6,344.9 853.9,348.6 854.2,351.9 854.6,355.6 854.9,352.6 855.2,355.2 855.6,355.0 855.9,358.5 856.2,357.8 856.6,359.2 856.9,360.4 857.2,361.1 857.6,362.3 857.9,362.3 858.2,366.6 858.6,365.2 858.9,367.3 859.2,369.4 859.6,371.5 859.9,368.6 860.2,371.7 860.6,374.1 860.9,374.3 861.2,375.5 861.6,377.5 861.9,379.9 862.2,378.6 862.5,380.1 862.9,381.4 863.2,380.4 863.5,385.0 863.9,385.4 864.2,384.6 864.5,384.4 864.9,385.6 865.2,386.2 865.5,391.3 865.9,388.0 866.2,388.9 866.5,389.2 866.9,391.9 867.2,390.9 867.5,390.9 867.9,390.8 868.2,393.4 868.5,396.3 868.9,394.9 869.2,394.7 869.5,395.4 869.9,394.0 870.2,397.4 870.5,399.0 870.9,398.9 871.2,397.4 871.5,399.7 871.8,400.3 872.2,400.2 872.5,397.5 872.8,399.0 873.2,399.9 873.5,398.4 873.8,398.8 874.2,401.1 874.5,398.8 874.8,399.7 875.2,402.9 875.5,401.9 875.8,400.0 876.2,399.8 876.5,400.9 876.8,402.0 877.2,400.4 877.5,403.3 877.8,400.1 878.2,401.2 878.5,401.1 878.8,402.0 879.2,400.1 879.5,403.4 879.8,402.5 880.2,400.6 880.5,402.3 880.8,399.5 881.2,400.9 881.5,402.5 881.8,400.1 882.1,401.7 882.5,400.8 882.8,402.5 883.1,402.5 883.5,400.7 883.8,401.5 884.1,402.7 884.5,402.9 884.8,400.8 885.1,399.3 885.5,402.8 885.8,400.8 886.1,403.4 886.5,403.4 886.8,400.8 887.1,399.6 887.5,401.6 887.8,401.0 888.1,401.4 888.5,400.4 888.8,403.2 889.1,400.9 889.5,402.3 889.8,402.2 890.1,401.8 890.5,402.0 890.8,402.8 891.1,402.1 891.5,403.0 891.8,399.8 892.1,400.9 892.4,402.4 892.8,399.7 893.1,400.1 893.4,401.2 893.8,402.5 894.1,401.5 894.4,401.1 894.8,400.0 895.1,402.1 895.4,402.6 895.8,398.8 896.1,400.0 896.4,401.4 896.8,403.1 897.1,401.2 897.4,400.4 897.8,400.9 898.1,400.8 898.4,401.8 898.8,400.4 899.1,402.7 899.4,402.5 899.8,402.6 900.1,402.7 900.4,399.3 900.8,403.4 901.1,401.6 901.4,403.2 901.8,403.4 902.1,401.8 902.4,403.4 902.7,402.0 903.1,398.9 903.4,402.1 903.7,401.3 904.1,403.1 904.4,401.3 904.7,403.4 905.1,401.7 905.4,402.1 905.7,399.1 906.1,402.1 906.4,402.5 906.7,402.7 907.1,403.4 907.4,401.0 907.7,400.0 908.1,402.5 908.4,401.0 908.7,402.5 909.1,401.5 909.4,401.4 909.7,403.4 910.1,403.0 910.4,400.8 910.7,403.4 911.1,402.0 911.4,402.5 911.7,403.3 912.0,402.0 912.4,401.6 912.7,401.3 913.0,403.4 913.4,399.8 913.7,402.7 914.0,400.6 914.4,402.2 914.7,402.8 915.0,402.1 915.4,397.8 915.7,399.9 916.0,402.5 916.4,401.7 916.7,400.5 917.0,401.3 917.4,401.9 917.7,402.3 918.0,403.4 918.4,401.0 918.7,400.6 919.0,399.0 919.4,402.8 919.7,401.2 920.0,402.1 920.4,400.4 920.7,402.2 921.0,402.9 921.4,403.4 921.7,401.1 922.0,401.8 922.3,400.5 922.7,402.8 923.0,398.6 923.3,403.0 923.7,401.4 924.0,401.5" stroke="#ff0000" />
<path d="M425.7,401.2 426.0,401.8 426.3,402.2 426.7,402.2 427.0,401.3 427.3,401.7 427.7,401.6 428.0,402.1 428.3,401.7 428.7,401.6 429.0,401.4 429.3,402.5 429.6,402.1 430.0,400.9 430.3,401.9 430.6,401.8 431.0,401.9 431.3,402.5 431.6,402.3 432.0,401.5 432.3,402.1 432.6,400.7 433.0,402.5 433.3,402.7 433.6,401.9 434.0,402.3 434.3,401.0 434.6,401.9 435.0,401.5 435.3,402.4 435.6,401.4 436.0,401.4 436.3,401.1 436.6,401.6 437.0,401.5 437.3,401.6 437.6,401.3 438.0,401.9 438.3,401.5 438.6,402.0 438.9,401.4 439.3,401.9 439.6,402.1 439.9,402.1 440.3,401.0 440.6,402.5 440.9,402.5 441.3,401.4 441.6,402.2 441.9,402.0 442.3,402.0 442.6,400.6 442.9,402.1 443.3,402.1 443.6,401.9 443.9,401.6 444.3,401.5 444.6,402.5 444.9,401.5 445.3,400.7 445.6,402.6 445.9,401.4 446.3,401.3 446.6,401.7 446.9,401.8 447.3,402.9 447.6,401.1 447.9,401.9 448.3,401.8 448.6,401.1 448.9,402.9 449.2,401.8 449.6,401.4 449.9,401.4 450.2,401.4 450.6,400.7 450.9,401.6 451.2,401.2 451.6,401.3 451.9,402.5 452.2,402.1 452.6,400.7 452.9,401.9 453.2,401.8 453.6,402.4 453.9,401.9 454.2,402.4 454.6,402.0 454.9,401.4 455.2,402.1 455.6,402.0 455.9,401.0 456.2,401.5 456.6,401.5 456.9,401.2 457.2,402.0 457.6,401.9 457.9,402.8 458.2,401.4 458.6,401.8 458.9,401.7 459.2,402.3 459.5,401.4 459.9,401.4 460.2,401.6 460.5,402.5 460.9,402.2 461.2,401.7 461.5,402.2 461.9,401.5 462.2,401.2 462.5,402.1 462.9,401.8 463.2,402.1 463.5,401.2 463.9,401.3 464.2,400.4 464.5,401.7 464.9,402.2 465.2,401.5 465.5,401.8 465.9,401.6 466.2,401.1 466.5,401.9 466.9,401.4 467.2,402.8 467.5,401.2 467.9,401.7 468.2,401.8 468.5,402.0 468.9,401.0 469.2,402.0 469.5,401.1 469.8,402.0 470.2,401.7 470.5,401.5 470.8,400.7 471.2,401.6 471.5,401.6 471.8,401.8 472.2,401.9 472.5,402.0 472.8,400.8 473.2,401.0 473.5,402.1 473.8,401.6 474.2,402.3 474.5,401.2 474.8,401.4 475.2,401.7 475.5,402.1 475.8,401.3 476.2,401.4 476.5,401.8 476.8,401.3 477.2,402.4 477.5,402.0 477.8,402.2 478.2,401.7 478.5,400.9 478.8,401.7 479.1,401.1 479.5,401.7 479.8,401.9 480.1,401.2 480.5,401.4 480.8,401.0 481.1,401.2 481.5,402.1 481.8,403.0 482.1,401.7 482.5,402.3 482.8,402.4 483.1,402.5 483.5,402.0 483.8,401.8 484.1,401.7 484.5,400.7 484.8,402.3 485.1,401.7 485.5,402.4 485.8,402.2 486.1,401.7 486.5,401.5 486.8,402.4 487.1,401.1 487.5,402.2 487.8,401.2 488.1,401.8 488.5,401.3 488.8,401.4 489.1,401.9 489.4,401.5 489.8,402.4 490.1,402.4 490.4,401.9 490.8,401.0 491.1,402.1 491.4,402.0 491.8,400.9 492.1,401.7 492.4,401.7 492.8,402.3 493.1,401.7 493.4,401.4 493.8,401.8 494.1,401.3 494.4,401.6 494.8,401.2 495.1,401.3 495.4,401.8 495.8,401.3 496.1,400.8 496.4,401.6 496.8,402.3 497.1,401.6 497.4,401.8 497.8,400.4 498.1,401.3 498.4,402.3 498.8,401.8 499.1,401.0 499.4,402.3 499.7,402.0 500.1,401.7 500.4,401.8 500.7,402.0 501.1,401.7 501.4,402.4 501.7,402.0 502.1,402.0 502.4,401.9 502.7,401.9 503.1,401.7 503.4,401.9 503.7,401.9 504.1,401.6 504.4,401.3 504.7,401.2 505.1,402.3 505.4,401.6 505.7,401.4 506.1,401.9 506.4,401.5 506.7,401.8 507.1,401.5 507.4,402.5 507.7,401.5 508.1,402.0 508.4,402.1 508.7,401.9 509.1,401.2 509.4,401.3 509.7,401.6 510.0,401.3 510.4,401.9 510.7,402.4 511.0,402.7 511.4,401.8 511.7,401.8 512.0,401.7 512.4,401.7 512.7,401.1 513.0,402.2 513.4,402.1 513.7,400.8 514.0,401.4 514.4,401.9 514.7,402.8 515.0,402.2 515.4,401.9 515.7,401.8 516.0,401.6 516.4,401.9 516.7,401.2 517.0,402.3 517.4,401.9 517.7,402.1 518.0,401.4 518.4,401.7 518.7,401.3 519.0,401.7 519.3,399.8 519.7,401.4 520.0,402.1 520.3,401.7 520.7,401.9 521.0,401.4 521.3,401.3 521.7,401.5 522.0,401.8 522.3,402.1 522.7,400.9 523.0,401.2 523.3,403.2 523.7,401.7 524.0,402.2 524.3,401.9 524.7,400.9 525.0,402.3 525.3,402.3 525.7,400.5 526.0,402.0 526.3,401.9 526.7,401.2 527.0,402.0 527.3,401.7 527.7,401.6 528.0,401.0 528.3,402.5 528.7,402.2 529.0,401.8 529.3,401.3 529.6,402.1 530.0,401.5 530.3,402.0 530.6,401.9 531.0,401.1 531.3,401.8 531.6,400.2 532.0,401.5 532.3,401.2 532.6,401.4 533.0,402.5 533.3,402.5 533.6,401.5 534.0,402.3 534.3,402.0 534.6,401.9 535.0,402.2 535.3,401.1 535.6,401.3 536.0,401.6 536.3,401.4 536.6,402.2 537.0,401.3 537.3,402.2 537.6,400.9 538.0,402.1 538.3,402.0 538.6,401.1 539.0,401.4 539.3,402.2 539.6,401.4 539.9,401.7 540.3,401.7 540.6,401.4 540.9,401.4 541.3,401.2 541.6,401.5 541.9,401.6 542.3,401.8 542.6,401.0 542.9,402.1 543.3,400.8 543.6,400.6 543.9,400.6 544.3,401.8 544.6,400.7 544.9,401.1 545.3,401.2 545.6,400.1 545.9,401.6 546.3,401.4 546.6,402.4 546.9,402.8 547.3,401.6 547.6,401.5 547.9,401.4 548.3,401.6 548.6,402.7 548.9,401.5 549.3,401.2 549.6,400.9 549.9,402.2 550.2,402.2 550.6,402.1 550.9,402.0 551.2,402.5 551.6,402.1 551.9,400.9 552.2,402.3 552.6,402.7 552.9,401.9 553.2,402.0 553.6,401.4 553.9,402.1 554.2,401.8 554.6,402.2 554.9,402.2 555.2,401.5 555.6,401.7 555.9,401.8 556.2,401.5 556.6,402.1 556.9,401.7 557.2,401.6 557.6,401.1 557.9,402.7 558.2,401.9 558.6,401.5 558.9,402.0 559.2,401.7 559.6,401.4 559.9,401.5 560.2,402.6 560.5,402.3 560.9,403.2 561.2,401.4 561.5,401.6 561.9,401.0 562.2,401.7 562.5,402.3 562.9,401.2 563.2,402.4 563.5,401.7 563.9,401.8 564.2,401.3 564.5,401.3 564.9,401.9 565.2,402.1 565.5,401.8 565.9,402.0 566.2,401.2 566.5,401.5 566.9,401.0 567.2,400.4 567.5,402.2 567.9,402.0 568.2,401.5 568.5,401.5 568.9,401.9 569.2,402.6 569.5,400.4 569.8,401.7 570.2,402.3 570.5,403.0 570.8,401.0 571.2,401.6 571.5,401.7 571.8,402.3 572.2,401.8 572.5,401.9 572.8,403.0 573.2,400.4 573.5,401.5 573.8,401.9 574.2,402.2 574.5,402.0 574.8,400.5 575.2,401.5 575.5,402.4 575.8,401.3 576.2,401.5 576.5,401.5 576.8,401.8 577.2,401.8 577.5,401.6 577.8,401.8 578.2,402.5 578.5,402.2 578.8,401.7 579.2,402.5 579.5,401.8 579.8,401.9 580.1,401.4 580.5,401.6 580.8,401.9 581.1,401.9 581.5,401.5 581.8,401.3 582.1,402.3 582.5,402.5 582.8,402.1 583.1,402.9 583.5,402.1 583.8,401.3 584.1,401.2 584.5,400.9 584.8,401.7 585.1,401.7 585.5,402.0 585.8,402.0 586.1,401.6 586.5,401.3 586.8,401.5 587.1,402.8 587.5,401.5 587.8,401.7 588.1,402.0 588.5,401.7 588.8,401.3 589.1,401.7 589.5,402.1 589.8,400.0 590.1,402.1 590.4,401.5 590.8,401.1 591.1,402.2 591.4,401.5 591.8,402.2 592.1,401.9 592.4,402.1 592.8,400.8 593.1,402.4 593.4,401.5 593.8,401.7 594.1,402.8 594.4,400.9 594.8,402.0 595.1,401.9 595.4,401.6 595.8,402.2 596.1,402.1 596.4,401.8 596.8,402.2 597.1,401.7 597.4,401.1 597.8,402.3 598.1,402.5 598.4,401.8 598.8,401.5 599.1,401.4 599.4,402.3 599.8,402.9 600.1,401.3 600.4,401.4 600.7,401.0 601.1,402.2 601.4,401.5 601.7,401.2 602.1,402.7 602.4,401.2 602.7,401.0 603.1,401.4 603.4,401.5 603.7,401.4 604.1,401.9 604.4,402.5 604.7,402.2 605.1,401.8 605.4,402.2 605.7,401.2 606.1,401.9 606.4,401.8 606.7,402.6 607.1,401.5 607.4,402.1 607.7,401.0 608.1,402.6 608.4,401.6 608.7,401.9 609.1,401.9 609.4,400.9 609.7,401.3 610.0,402.2 610.4,401.0 610.7,402.1 611.0,401.3 611.4,402.6 611.7,401.9 612.0,401.9 612.4,401.9 612.7,402.5 613.0,402.7 613.4,401.7 613.7,401.4 614.0,401.7 614.4,401.9 614.7,402.5 615.0,401.9 615.4,402.0 615.7,402.1 616.0,401.6 616.4,401.7 616.7,401.5 617.0,401.9 617.4,402.2 617.7,401.8 618.0,401.9 618.4,402.6 618.7,401.9 619.0,402.6 619.4,402.7 619.7,402.2 620.0,402.1 620.3,401.4 620.7,401.9 621.0,401.5 621.3,401.0 621.7,401.7 622.0,401.5 622.3,402.1 622.7,401.3 623.0,401.7 623.3,401.7 623.7,402.3 624.0,402.2 624.3,402.1 624.7,401.7 625.0,401.2 625.3,402.5 625.7,401.9 626.0,401.9 626.3,400.6 626.7,401.8 627.0,402.0 627.3,401.4 627.7,402.3 628.0,401.5 628.3,402.6 628.7,400.7 629.0,401.8 629.3,402.0 629.7,402.4 630.0,401.8 630.3,401.7 630.6,402.1 631.0,401.1 631.3,401.9 631.6,401.7 632.0,401.6 632.3,401.0 632.6,401.9 633.0,401.7 633.3,401.6 633.6,401.4 634.0,402.7 634.3,401.2 634.6,401.8 635.0,402.1 635.3,401.7 635.6,402.7 636.0,402.1 636.3,401.6 636.6,401.0 637.0,401.8 637.3,401.5 637.6,401.9 638.0,401.3 638.3,401.9 638.6,401.5 639.0,401.9 639.3,402.2 639.6,402.2 640.0,402.1 640.3,401.1 640.6,400.1 640.9,401.8 641.3,402.1 641.6,401.5 641.9,401.5 642.3,402.0 642.6,400.7 642.9,401.3 643.3,401.2 643.6,401.7 643.9,401.6 644.3,401.2 644.6,402.4 644.9,402.1 645.3,401.7 645.6,402.5 645.9,400.9 646.3,402.0 646.6,401.9 646.9,401.5 647.3,400.9 647.6,401.7 647.9,402.1 648.3,402.2 648.6,401.6 648.9,402.0 649.3,400.5 649.6,401.1 649.9,403.3 650.2,402.2 650.6,401.5 650.9,400.5 651.2,402.7 651.6,401.9 651.9,401.1 652.2,402.0 652.6,401.7 652.9,401.9 653.2,401.4 653.6,402.2 653.9,401.7 654.2,402.4 654.6,401.2 654.9,401.4 655.2,401.7 655.6,401.7 655.9,401.7 656.2,401.9 656.6,401.6 656.9,401.5 657.2,401.7 657.6,402.0 657.9,401.9 658.2,401.9 658.6,401.4 658.9,401.6 659.2,400.7 659.6,401.8 659.9,401.6 660.2,402.0 660.5,401.6 660.9,401.9 661.2,402.1 661.5,401.6 661.9,400.9 662.2,402.1 662.5,402.0 662.9,401.7 663.2,401.5 663.5,401.0 663.9,402.0 664.2,401.7 664.5,402.1 664.9,402.1 665.2,401.9 665.5,402.2 665.9,401.4 666.2,401.1 666.5,401.9 666.9,402.0 667.2,401.0 667.5,401.8 667.9,400.9 668.2,403.1 668.5,401.7 668.9,402.2 669.2,401.9 669.5,401.2 669.9,401.1 670.2,401.7 670.5,401.2 670.8,402.2 671.2,401.5 671.5,401.7 671.8,402.5 672.2,401.2 672.5,402.0 672.8,401.4 673.2,402.0 673.5,401.5 673.8,401.3 674.2,401.6 674.5,401.9 674.8,401.3 675.2,401.5 675.5,401.8 675.8,401.6 676.2,401.7 676.5,401.8 676.8,401.1 677.2,400.7 677.5,401.9 677.8,401.7 678.2,402.1 678.5,402.3 678.8,401.0 679.2,401.9 679.5,401.4 679.8,402.3 680.2,401.9 680.5,401.3 680.8,401.3 681.1,401.5 681.5,401.4 681.8,401.5 682.1,401.1 682.5,400.7 682.8,401.3 683.1,401.6 683.5,402.1 683.8,401.8 684.1,401.7 684.5,400.8 684.8,402.3 685.1,402.0 685.5,402.1 685.8,401.1 686.1,401.9 686.5,402.5 686.8,402.6 687.1,401.4 687.5,402.4 687.8,401.0 688.1,401.0 688.5,402.1 688.8,401.7 689.1,401.5 689.5,402.3 689.8,402.2 690.1,401.9 690.4,401.5 690.8,401.4 691.1,402.5 691.4,401.4 691.8,401.6 692.1,401.7 692.4,401.8 692.8,401.0 693.1,400.7 693.4,401.7 693.8,401.6 694.1,402.3 694.4,401.7 694.8,401.2 695.1,401.5 695.4,401.3 695.8,401.5 696.1,401.4 696.4,401.1 696.8,401.1 697.1,402.5 697.4,401.6 697.8,402.9 698.1,401.5 698.4,401.7 698.8,401.8 699.1,400.7 699.4,401.3 699.8,400.9 700.1,401.1 700.4,400.6 700.7,401.6 701.1,401.6 701.4,401.5 701.7,400.2 702.1,401.6 702.4,401.4 702.7,400.7 703.1,400.9 703.4,401.7 703.7,400.5 704.1,401.2 704.4,400.7 704.7,401.1 705.1,401.0 705.4,401.8 705.7,400.7 706.1,401.7 706.4,401.3 706.7,400.8 707.1,401.5 707.4,401.3 707.7,401.3 708.1,401.3 708.4,401.0 708.7,402.1 709.1,401.6 709.4,400.2 709.7,402.3 710.1,401.6 710.4,400.9 710.7,402.2 711.0,401.7 711.4,401.6 711.7,400.4 712.0,401.6 712.4,400.9 712.7,401.5 713.0,401.1 713.4,401.7 713.7,401.9 714.0,401.3 714.4,401.8 714.7,401.2 715.0,401.0 715.4,400.8 715.7,400.2 716.0,400.3 716.4,401.5 716.7,401.3 717.0,400.1 717.4,400.9 717.7,401.1 718.0,400.3 718.4,401.2 718.7,400.4 719.0,401.0 719.4,400.1 719.7,400.8 720.0,400.3 720.4,400.2 720.7,399.9 721.0,401.1 721.3,400.8 721.7,401.3 722.0,401.5 722.3,400.8 722.7,400.5 723.0,399.9 723.3,400.7 723.7,399.5 724.0,400.3 724.3,400.0 724.7,400.5 725.0,401.0 725.3,399.5 725.7,400.4 726.0,399.7 726.3,400.4 726.7,399.9 727.0,400.2 727.3,400.3 727.7,400.1 728.0,399.7 728.3,400.6 728.7,400.4 729.0,399.4 729.3,400.2 729.7,399.7 730.0,400.4 730.3,399.8 730.7,399.0 731.0,399.5 731.3,399.4 731.6,399.6 732.0,399.3 732.3,400.2 732.6,400.0 733.0,398.9 733.3,400.0 733.6,398.3 734.0,398.5 734.3,399.4 734.6,399.9 735.0,399.9 735.3,398.4 735.6,398.6 736.0,397.7 736.3,398.1 736.6,397.4 737.0,397.7 737.3,398.6 737.6,398.1 738.0,398.3 738.3,397.9 738.6,398.0 739.0,397.7 739.3,396.8 739.6,397.7 740.0,397.9 740.3,397.5 740.6,397.3 740.9,397.3 741.3,397.0 741.6,397.0 741.9,396.1 742.3,396.1 742.6,396.8 742.9,395.8 743.3,395.5 743.6,396.1 743.9,396.4 744.3,395.6 744.6,395.8 744.9,395.4 745.3,396.1 745.6,394.3 745.9,395.4 746.3,394.9 746.6,395.3 746.9,394.8 747.3,396.0 747.6,395.3 747.9,395.8 748.3,393.8 748.6,394.9 748.9,394.8 749.3,393.2 749.6,393.9 749.9,393.5 750.3,392.7 750.6,392.8 750.9,392.7 751.2,392.3 751.6,393.5 751.9,391.6 752.2,391.3 752.6,390.8 752.9,392.7 753.2,391.8 753.6,391.4 753.9,390.0 754.2,390.3 754.6,389.4 754.9,389.9 755.2,390.2 755.6,390.3 755.9,389.7 756.2,388.3 756.6,389.3 756.9,389.5 757.2,388.1 757.6,387.2 757.9,386.4 758.2,386.7 758.6,386.6 758.9,387.8 759.2,386.7 759.6,386.4 759.9,385.9 760.2,386.1 760.6,384.9 760.9,384.3 761.2,384.6 761.5,384.5 761.9,383.8 762.2,383.4 762.5,382.8 762.9,383.3 763.2,381.6 763.5,382.1 763.9,381.8 764.2,380.9 764.5,381.3 764.9,379.9 765.2,378.8 765.5,379.3 765.9,379.0 766.2,378.9 766.5,377.3 766.9,377.1 767.2,378.1 767.5,376.2 767.9,376.7 768.2,376.5 768.5,375.3 768.9,375.2 769.2,373.6 769.5,374.5 769.9,374.0 770.2,373.2 770.5,372.2 770.9,371.2 771.2,371.7 771.5,370.9 771.8,370.8 772.2,369.4 772.5,369.3 772.8,366.7 773.2,366.2 773.5,367.3 773.8,366.0 774.2,365.1 774.5,365.0 774.8,364.2 775.2,362.8 775.5,362.6 775.8,361.9 776.2,360.9 776.5,359.3 776.8,359.4 777.2,358.2 777.5,357.4 777.8,356.2 778.2,355.9 778.5,355.2 778.8,354.3 779.2,352.8 779.5,351.9 779.8,351.1 780.2,349.7 780.5,347.2 780.8,347.2 781.1,347.8 781.5,344.5 781.8,344.0 782.1,343.6 782.5,340.7 782.8,340.3 783.1,338.2 783.5,338.0 783.8,335.4 784.1,334.9 784.5,332.6 784.8,331.2 785.1,331.1 785.5,328.5 785.8,326.8 786.1,325.6 786.5,325.2 786.8,322.1 787.1,320.8 787.5,318.0 787.8,318.0 788.1,314.7 788.5,313.6 788.8,309.9 789.1,310.8 789.5,307.5 789.8,306.8 790.1,305.2 790.5,301.5 790.8,299.8 791.1,297.4 791.4,297.4 791.8,294.8 792.1,291.1 792.4,289.9 792.8,285.7 793.1,283.0 793.4,282.1 793.8,279.4 794.1,276.9 794.4,274.6 794.8,271.8 795.1,269.3 795.4,266.0 795.8,264.0 796.1,261.5 796.4,258.5 796.8,256.0 797.1,252.7 797.4,249.3 797.8,245.0 798.1,245.7 798.4,242.6 798.8,238.4 799.1,235.4 799.4,232.6 799.8,227.6 800.1,228.3 800.4,223.4 800.8,221.3 801.1,217.0 801.4,212.7 801.7,211.3 802.1,205.1 802.4,203.6 802.7,200.3 803.1,197.4 803.4,192.8 803.7,189.3 804.1,184.0 804.4,183.3 804.7,177.9 805.1,173.8 805.4,171.8 805.7,167.4 806.1,166.2 806.4,161.8 806.7,159.9 807.1,153.9 807.4,154.2 807.7,151.5 808.1,147.9 808.4,146.4 808.7,143.2 809.1,139.8 809.4,136.3 809.7,135.5 810.1,131.7 810.4,129.0 810.7,124.7 811.1,121.3 811.4,118.6 811.7,115.6 812.0,110.2 812.4,110.6 812.7,104.0 813.0,102.4 813.4,102.4 813.7,97.2 814.0,96.7 814.4,92.4 814.7,92.9 815.0,86.9 815.4,87.3 815.7,82.2 816.0,84.0 816.4,81.2 816.7,81.7 817.0,78.3 817.4,76.6 817.7,74.4 818.0,70.1 818.4,70.0 818.7,70.0 819.0,70.6 819.4,69.5 819.7,68.6 820.0,68.7 820.4,65.8 820.7,66.4 821.0,65.3 821.3,66.3 821.7,65.6 822.0,64.0 822.3,66.9 822.7,67.0 823.0,71.0 823.3,71.4 823.7,73.4 824.0,73.9 824.3,76.2 824.7,79.7 825.0,80.3 825.3,82.8 825.7,87.4 826.0,87.4 826.3,87.7 826.7,93.0 827.0,92.7 827.3,96.1 827.7,99.9 828.0,102.8 828.3,107.9 828.7,109.2 829.0,115.7 829.3,118.9 829.7,120.2 830.0,126.0 830.3,125.3 830.7,130.9 831.0,133.3 831.3,136.4 831.6,141.2 832.0,143.7 832.3,146.1 832.6,149.7 833.0,150.7 833.3,154.3 833.6,158.3 834.0,160.0 834.3,164.4 834.6,166.5 835.0,170.3 835.3,173.8 835.6,177.7 836.0,180.5 836.3,182.7 836.6,185.4 837.0,191.4 837.3,192.6 837.6,194.6 838.0,198.6 838.3,202.8 838.6,205.8 839.0,206.0 839.3,212.7 839.6,214.5 840.0,216.4 840.3,222.4 840.6,222.7 841.0,228.1 841.3,228.5 841.6,229.9 841.9,236.9 842.3,238.8 842.6,241.4 842.9,245.5 843.3,247.5 843.6,251.8 843.9,254.8 844.3,258.2 844.6,260.6 844.9,263.2 845.3,265.8 845.6,269.8 845.9,273.6 846.3,276.0 846.6,278.8 846.9,281.5 847.3,283.3 847.6,286.6 847.9,288.9 848.3,291.3 848.6,293.7 848.9,296.3 849.3,297.6 849.6,300.5 849.9,302.7 850.3,305.6 850.6,307.4 850.9,309.3 851.3,310.4 851.6,314.2 851.9,314.2 852.2,316.6 852.6,319.1 852.9,321.0 853.2,321.7 853.6,323.7 853.9,327.0 854.2,327.7 854.6,329.5 854.9,330.4 855.2,332.4 855.6,333.1 855.9,335.2 856.2,336.4 856.6,336.7 856.9,339.1 857.2,340.6 857.6,341.5 857.9,343.7 858.2,345.2 858.6,345.4 858.9,347.0 859.2,348.7 859.6,348.4 859.9,349.7 860.2,351.2 860.6,352.9 860.9,353.9 861.2,355.4 861.6,355.7 861.9,358.4 862.2,358.6 862.5,360.0 862.9,362.0 863.2,362.2 863.5,364.0 863.9,364.0 864.2,365.7 864.5,367.7 864.9,369.1 865.2,370.6 865.5,371.9 865.9,372.5 866.2,374.7 866.5,374.5 866.9,375.9 867.2,377.6 867.5,378.2 867.9,378.5 868.2,380.7 868.5,381.0 868.9,383.3 869.2,384.6 869.5,384.8 869.9,387.6 870.2,387.3 870.5,389.0 870.9,390.5 871.2,391.3 871.5,392.4 871.8,392.9 872.2,394.1 872.5,395.4 872.8,396.4 873.2,397.5 873.5,397.5 873.8,399.4 874.2,397.9 874.5,398.6 874.8,399.6 875.2,398.7 875.5,399.6 875.8,399.6 876.2,400.5 876.5,400.1 876.8,399.8 877.2,400.1 877.5,400.0 877.8,400.7 878.2,400.2 878.5,401.4 878.8,401.0 879.2,402.2 879.5,401.1 879.8,401.3 880.2,401.2 880.5,400.9 880.8,400.6 881.2,402.0 881.5,401.6 881.8,402.5 882.1,400.6 882.5,401.0 882.8,401.4 883.1,401.1 883.5,401.3 883.8,402.0 884.1,401.4 884.5,401.1 884.8,401.3 885.1,401.8 885.5,402.0 885.8,400.6 886.1,401.6 886.5,401.5 886.8,402.5 887.1,401.4 887.5,401.7 887.8,402.2 888.1,401.1 888.5,401.8 888.8,401.5 889.1,401.6 889.5,402.2 889.8,401.7 890.1,401.1 890.5,402.4 890.8,402.4 891.1,402.3 891.5,401.5 891.8,402.1 892.1,401.7 892.4,401.3 892.8,402.4 893.1,401.1 893.4,401.9 893.8,402.0 894.1,401.1 894.4,401.7 894.8,402.6 895.1,401.9 895.4,402.3 895.8,401.8 896.1,402.2 896.4,402.1 896.8,401.4 897.1,402.8 897.4,401.8 897.8,402.1 898.1,401.8 898.4,403.1 898.8,402.4 899.1,402.2 899.4,401.1 899.8,402.6 900.1,402.5 900.4,402.1 900.8,401.8 901.1,402.3 901.4,401.9 901.8,402.8 902.1,401.1 902.4,402.2 902.7,401.9 903.1,400.6 903.4,402.3 903.7,402.6 904.1,402.5 904.4,401.2 904.7,402.1 905.1,402.4 905.4,402.0 905.7,402.0 906.1,401.5 906.4,401.6 906.7,401.8 907.1,401.8 907.4,402.4 907.7,402.7 908.1,401.8 908.4,401.8 908.7,401.9 909.1,401.9 909.4,401.7 909.7,402.6 910.1,402.2 910.4,402.5 910.7,403.0 911.1,401.8 911.4,402.2 911.7,401.8 912.0,401.7 912.4,402.5 912.7,401.3 913.0,401.9 913.4,401.5 913.7,401.2 914.0,402.3 914.4,402.4 914.7,402.0 915.0,401.5 915.4,401.5 915.7,403.0 916.0,401.3 916.4,402.3 916.7,401.8 917.0,402.7 917.4,402.5 917.7,401.9 918.0,403.0 918.4,401.7 918.7,402.3 919.0,401.9 919.4,402.0 919.7,402.3 920.0,401.4 920.4,400.9 920.7,401.7 921.0,402.9 921.4,402.0 921.7,402.2 922.0,401.6 922.3,402.0 922.7,401.0 923.0,401.7 923.3,401.8 923.7,402.2 924.0,402.5" stroke="#0000ff" />
<path d="M425.7,402.1 426.0,401.9 426.3,401.6 426.7,401.9 427.0,402.3 427.3,402.0 427.7,402.5 428.0,403.1 428.3,402.9 428.7,401.5 429.0,401.3 429.3,402.3 429.6,402.2 430.0,401.5 430.3,402.2 430.6,398.8 431.0,401.9 431.3,402.5 431.6,403.4 432.0,401.8 432.3,400.9 432.6,402.0 433.0,400.7 433.3,402.5 433.6,402.0 434.0,402.1 434.3,402.7 434.6,403.4 435.0,402.9 435.3,403.4 435.6,401.1 436.0,402.0 436.3,401.9 436.6,402.4 437.0,400.8 437.3,402.7 437.6,400.1 438.0,400.7 438.3,402.5 438.6,401.9 438.9,401.1 439.3,400.4 439.6,402.5 439.9,402.2 440.3,399.1 440.6,400.7 440.9,400.7 441.3,399.6 441.6,401.1 441.9,402.0 442.3,403.3 442.6,400.7 442.9,402.7 443.3,400.8 443.6,403.4 443.9,402.0 444.3,401.5 444.6,402.7 444.9,402.0 445.3,402.3 445.6,401.3 445.9,402.7 446.3,401.6 446.6,399.9 446.9,399.9 447.3,399.3 447.6,400.8 447.9,401.6 448.3,400.9 448.6,400.4 448.9,400.8 449.2,399.6 449.6,401.7 449.9,401.2 450.2,402.5 450.6,401.4 450.9,399.6 451.2,400.8 451.6,400.0 451.9,400.3 452.2,399.7 452.6,401.5 452.9,400.1 453.2,399.9 453.6,399.3 453.9,399.0 454.2,400.9 454.6,401.9 454.9,401.0 455.2,398.9 455.6,401.3 455.9,401.6 456.2,401.5 456.6,401.4 456.9,399.3 457.2,400.8 457.6,400.6 457.9,398.7 458.2,398.8 458.6,398.9 458.9,400.5 459.2,401.5 459.5,399.3 459.9,397.7 460.2,399.9 460.5,399.8 460.9,402.9 461.2,397.6 461.5,399.6 461.9,401.2 462.2,399.4 462.5,399.9 462.9,398.6 463.2,396.9 463.5,400.0 463.9,399.0 464.2,399.5 464.5,399.8 464.9,398.6 465.2,397.4 465.5,398.6 465.9,399.5 466.2,398.4 466.5,398.7 466.9,398.1 467.2,399.5 467.5,398.8 467.9,397.2 468.2,398.9 468.5,397.8 468.9,398.9 469.2,398.8 469.5,399.6 469.8,395.8 470.2,397.5 470.5,397.5 470.8,397.5 471.2,399.8 471.5,399.6 471.8,398.9 472.2,400.5 472.5,399.7 472.8,397.8 473.2,401.0 473.5,399.6 473.8,398.8 474.2,398.7 474.5,398.7 474.8,399.4 475.2,397.6 475.5,401.1 475.8,398.1 476.2,400.2 476.5,399.3 476.8,398.6 477.2,396.8 477.5,399.5 477.8,400.0 478.2,397.4 478.5,398.6 478.8,398.4 479.1,397.8 479.5,397.4 479.8,398.3 480.1,400.7 480.5,398.6 480.8,398.4 481.1,399.6 481.5,399.5 481.8,397.7 482.1,398.1 482.5,399.3 482.8,397.7 483.1,398.2 483.5,399.7 483.8,398.6 484.1,399.7 484.5,399.2 484.8,398.0 485.1,399.6 485.5,399.6 485.8,397.8 486.1,399.3 486.5,398.5 486.8,398.5 487.1,398.4 487.5,397.8 487.8,398.7 488.1,399.0 488.5,398.7 488.8,396.9 489.1,397.2 489.4,398.2 489.8,396.8 490.1,397.4 490.4,399.3 490.8,396.5 491.1,395.1 491.4,397.7 491.8,399.9 492.1,396.5 492.4,397.4 492.8,398.2 493.1,400.3 493.4,398.2 493.8,398.4 494.1,398.4 494.4,398.5 494.8,397.0 495.1,398.5 495.4,397.6 495.8,400.1 496.1,399.1 496.4,398.0 496.8,399.0 497.1,398.0 497.4,398.0 497.8,397.8 498.1,398.3 498.4,397.3 498.8,399.4 499.1,398.4 499.4,396.3 499.7,398.4 500.1,396.3 500.4,397.6 500.7,398.2 501.1,397.8 501.4,396.2 501.7,398.3 502.1,399.1 502.4,397.4 502.7,397.1 503.1,397.0 503.4,399.5 503.7,397.4 504.1,397.8 504.4,398.1 504.7,398.4 505.1,397.4 505.4,397.9 505.7,397.9 506.1,395.7 506.4,397.8 506.7,399.1 507.1,398.8 507.4,398.7 507.7,399.6 508.1,396.7 508.4,395.8 508.7,398.5 509.1,396.8 509.4,398.6 509.7,398.6 510.0,399.7 510.4,397.9 510.7,396.5 511.0,396.4 511.4,397.2 511.7,398.1 512.0,396.5 512.4,395.9 512.7,398.6 513.0,397.5 513.4,397.8 513.7,398.5 514.0,399.0 514.4,398.7 514.7,397.6 515.0,397.5 515.4,397.6 515.7,396.4 516.0,398.5 516.4,399.1 516.7,399.0 517.0,397.3 517.4,398.3 517.7,399.5 518.0,396.7 518.4,396.2 518.7,397.5 519.0,397.0 519.3,399.2 519.7,399.2 520.0,397.5 520.3,397.5 520.7,397.9 521.0,398.0 521.3,398.4 521.7,396.1 522.0,398.6 522.3,397.8 522.7,396.6 523.0,398.8 523.3,397.5 523.7,397.8 524.0,397.0 524.3,400.3 524.7,398.0 525.0,398.5 525.3,396.5 525.7,397.7 526.0,398.3 526.3,396.7 526.7,396.9 527.0,396.5 527.3,396.5 527.7,396.8 528.0,398.2 528.3,397.3 528.7,397.3 529.0,397.2 529.3,397.2 529.6,397.5 530.0,398.1 530.3,397.7 530.6,398.7 531.0,398.6 531.3,396.8 531.6,397.9 532.0,397.5 532.3,398.2 532.6,399.3 533.0,398.0 533.3,395.8 533.6,397.7 534.0,398.3 534.3,396.8 534.6,398.1 535.0,398.2 535.3,399.2 535.6,399.4 536.0,397.1 536.3,397.4 536.6,397.5 537.0,396.8 537.3,398.0 537.6,397.5 538.0,398.4 538.3,398.4 538.6,398.3 539.0,396.4 539.3,396.7 539.6,398.6 539.9,397.8 540.3,397.3 540.6,398.3 540.9,396.7 541.3,398.3 541.6,397.8 541.9,397.8 542.3,399.4 542.6,399.3 542.9,398.3 543.3,396.1 543.6,396.8 543.9,396.9 544.3,398.1 544.6,397.9 544.9,397.3 545.3,397.1 545.6,399.0 545.9,398.1 546.3,398.2 546.6,395.9 546.9,397.9 547.3,398.2 547.6,396.4 547.9,397.8 548.3,396.3 548.6,398.3 548.9,395.2 549.3,397.4 549.6,397.1 549.9,397.5 550.2,397.3 550.6,397.2 550.9,397.6 551.2,395.9 551.6,399.7 551.9,398.5 552.2,397.6 552.6,397.3 552.9,395.6 553.2,396.6 553.6,397.1 553.9,398.0 554.2,395.0 554.6,396.2 554.9,394.3 555.2,398.7 555.6,395.2 555.9,397.2 556.2,398.0 556.6,396.9 556.9,396.9 557.2,397.4 557.6,398.6 557.9,397.4 558.2,398.4 558.6,396.9 558.9,398.4 559.2,396.7 559.6,397.4 559.9,395.9 560.2,397.8 560.5,398.4 560.9,398.4 561.2,396.6 561.5,392.5 561.9,398.4 562.2,397.5 562.5,395.1 562.9,396.1 563.2,395.4 563.5,396.4 563.9,396.2 564.2,396.7 564.5,397.9 564.9,396.5 565.2,397.8 565.5,396.0 565.9,399.7 566.2,398.9 566.5,396.8 566.9,396.5 567.2,394.6 567.5,397.5 567.9,395.9 568.2,398.6 568.5,393.9 568.9,399.4 569.2,394.9 569.5,396.9 569.8,398.5 570.2,397.1 570.5,395.5 570.8,396.6 571.2,397.4 571.5,396.2 571.8,396.4 572.2,395.4 572.5,395.6 572.8,396.9 573.2,397.2 573.5,396.3 573.8,396.4 574.2,396.0 574.5,397.4 574.8,396.1 575.2,397.1 575.5,395.5 575.8,395.8 576.2,396.4 576.5,397.8 576.8,394.8 577.2,396.9 577.5,396.5 577.8,396.0 578.2,395.4 578.5,396.4 578.8,396.3 579.2,397.3 579.5,394.5 579.8,396.1 580.1,396.0 580.5,397.8 580.8,396.1 581.1,394.3 581.5,394.1 581.8,396.4 582.1,395.1 582.5,394.3 582.8,396.6 583.1,395.3 583.5,394.0 583.8,393.5 584.1,396.3 584.5,395.9 584.8,393.2 585.1,394.9 585.5,393.9 585.8,395.6 586.1,392.9 586.5,393.7 586.8,392.4 587.1,395.0 587.5,394.5 587.8,395.2 588.1,395.1 588.5,395.1 588.8,393.3 589.1,394.5 589.5,393.4 589.8,394.1 590.1,392.8 590.4,392.2 590.8,392.1 591.1,391.9 591.4,393.0 591.8,391.9 592.1,392.9 592.4,393.5 592.8,393.8 593.1,392.3 593.4,391.8 593.8,390.1 594.1,392.5 594.4,390.0 594.8,393.5 595.1,391.6 595.4,388.5 595.8,391.6 596.1,392.1 596.4,392.1 596.8,388.1 597.1,389.1 597.4,391.1 597.8,390.8 598.1,393.1 598.4,390.2 598.8,387.9 599.1,392.0 599.4,388.1 599.8,388.5 600.1,387.2 600.4,389.6 600.7,388.4 601.1,386.8 601.4,387.7 601.7,387.2 602.1,388.3 602.4,387.9 602.7,388.2 603.1,387.0 603.4,386.9 603.7,387.0 604.1,389.2 604.4,388.0 604.7,386.0 605.1,384.2 605.4,386.6 605.7,385.8 606.1,384.9 606.4,383.3 606.7,382.2 607.1,383.7 607.4,383.8 607.7,384.5 608.1,382.7 608.4,383.3 608.7,382.4 609.1,383.5 609.4,380.6 609.7,382.3 610.0,383.5 610.4,381.2 610.7,382.4 611.0,379.8 611.4,378.4 611.7,379.2 612.0,379.9 612.4,380.5 612.7,379.7 613.0,375.7 613.4,376.9 613.7,379.5 614.0,379.1 614.4,376.9 614.7,376.9 615.0,376.6 615.4,375.5 615.7,377.6 616.0,376.9 616.4,373.9 616.7,374.5 617.0,375.0 617.4,374.4 617.7,373.0 618.0,373.2 618.4,374.2 618.7,374.6 619.0,371.3 619.4,374.0 619.7,368.7 620.0,373.2 620.3,372.0 620.7,369.0 621.0,368.1 621.3,369.8 621.7,373.6 622.0,369.3 622.3,372.0 622.7,369.1 623.0,366.6 623.3,366.3 623.7,367.0 624.0,366.4 624.3,365.4 624.7,366.6 625.0,366.1 625.3,363.2 625.7,363.9 626.0,362.3 626.3,363.2 626.7,362.8 627.0,361.7 627.3,361.4 627.7,359.3 628.0,360.7 628.3,362.0 628.7,361.5 629.0,362.0 629.3,359.5 629.7,360.7 630.0,361.2 630.3,357.4 630.6,355.5 631.0,360.3 631.3,355.4 631.6,356.2 632.0,357.8 632.3,356.7 632.6,355.3 633.0,350.4 633.3,353.5 633.6,350.5 634.0,353.9 634.3,350.3 634.6,350.2 635.0,352.4 635.3,351.6 635.6,349.1 636.0,352.3 636.3,348.9 636.6,350.7 637.0,347.6 637.3,346.2 637.6,345.1 638.0,345.1 638.3,345.6 638.6,345.7 639.0,345.7 639.3,344.6 639.6,343.7 640.0,343.2 640.3,341.2 640.6,342.3 640.9,343.5 641.3,338.4 641.6,340.7 641.9,341.9 642.3,339.8 642.6,338.0 642.9,337.1 643.3,335.6 643.6,331.5 643.9,337.6 644.3,330.9 644.6,333.3 644.9,333.8 645.3,337.3 645.6,332.5 645.9,329.9 646.3,332.9 646.6,333.4 646.9,332.3 647.3,328.5 647.6,328.1 647.9,324.1 648.3,328.0 648.6,324.5 648.9,328.4 649.3,325.5 649.6,321.8 649.9,324.3 650.2,321.7 650.6,325.1 650.9,323.7 651.2,322.0 651.6,322.7 651.9,320.4 652.2,315.0 652.6,318.2 652.9,316.3 653.2,312.3 653.6,315.1 653.9,314.7 654.2,314.6 654.6,309.8 654.9,309.4 655.2,305.6 655.6,304.5 655.9,312.3 656.2,305.5 656.6,300.9 656.9,304.3 657.2,303.5 657.6,305.6 657.9,298.3 658.2,302.6 658.6,298.1 658.9,298.1 659.2,294.5 659.6,295.5 659.9,293.9 660.2,288.4 660.5,289.8 660.9,285.5 661.2,288.5 661.5,280.6 661.9,281.8 662.2,278.0 662.5,277.7 662.9,283.0 663.2,284.4 663.5,271.7 663.9,274.7 664.2,272.8 664.5,272.5 664.9,269.9 665.2,265.5 665.5,261.8 665.9,263.9 666.2,268.4 666.5,257.6 666.9,256.9 667.2,258.2 667.5,258.9 667.9,257.4 668.2,246.9 668.5,251.6 668.9,243.7 669.2,247.1 669.5,241.6 669.9,246.4 670.2,246.1 670.5,240.8 670.8,244.9 671.2,242.0 671.5,233.9 671.8,228.4 672.2,232.1 672.5,237.6 672.8,233.9 673.2,228.0 673.5,227.8 673.8,216.7 674.2,217.3 674.5,224.4 674.8,213.7 675.2,224.3 675.5,223.0 675.8,212.2 676.2,220.7 676.5,217.5 676.8,207.4 677.2,214.3 677.5,205.7 677.8,207.1 678.2,210.4 678.5,204.7 678.8,201.4 679.2,201.3 679.5,207.1 679.8,198.2 680.2,210.9 680.5,201.0 680.8,198.2 681.1,193.1 681.5,189.9 681.8,200.5 682.1,195.9 682.5,192.7 682.8,193.0 683.1,188.0 683.5,185.5 683.8,184.1 684.1,187.4 684.5,170.1 684.8,188.6 685.1,183.0 685.5,173.7 685.8,175.7 686.1,174.6 686.5,171.1 686.8,176.5 687.1,173.9 687.5,167.8 687.8,164.1 688.1,176.6 688.5,171.7 688.8,167.9 689.1,162.3 689.5,171.3 689.8,159.5 690.1,166.1 690.4,157.7 690.8,158.9 691.1,151.5 691.4,162.6 691.8,153.4 692.1,156.4 692.4,157.2 692.8,147.6 693.1,156.0 693.4,146.0 693.8,153.8 694.1,153.3 694.4,142.4 694.8,133.6 695.1,141.0 695.4,147.1 695.8,139.2 696.1,141.2 696.4,141.9 696.8,136.0 697.1,133.1 697.4,130.4 697.8,139.0 698.1,123.5 698.4,132.6 698.8,138.5 699.1,133.2 699.4,126.8 699.8,130.9 700.1,124.0 700.4,128.9 700.7,117.2 701.1,120.7 701.4,122.0 701.7,114.0 702.1,123.6 702.4,118.1 702.7,112.8 703.1,112.9 703.4,113.7 703.7,108.0 704.1,114.9 704.4,111.0 704.7,114.9 705.1,109.2 705.4,114.5 705.7,113.6 706.1,105.9 706.4,110.8 706.7,99.4 707.1,97.2 707.4,98.4 707.7,96.4 708.1,96.8 708.4,107.8 708.7,104.5 709.1,95.1 709.4,102.5 709.7,99.2 710.1,94.5 710.4,91.6 710.7,102.0 711.0,91.6 711.4,85.8 711.7,87.9 712.0,80.3 712.4,91.5 712.7,80.2 713.0,74.1 713.4,82.2 713.7,79.9 714.0,79.1 714.4,98.0 714.7,88.3 715.0,76.8 715.4,90.6 715.7,80.3 716.0,78.1 716.4,73.1 716.7,81.1 717.0,74.2 717.4,79.1 717.7,68.6 718.0,81.7 718.4,80.5 718.7,74.1 719.0,65.6 719.4,73.9 719.7,75.2 720.0,78.3 720.4,67.4 720.7,77.8 721.0,74.6 721.3,74.3 721.7,65.1 722.0,77.2 722.3,76.7 722.7,69.8 723.0,70.5 723.3,79.9 723.7,75.9 724.0,74.1 724.3,69.6 724.7,75.1 725.0,59.3 725.3,67.9 725.7,61.9 726.0,67.5 726.3,68.1 726.7,65.2 727.0,72.2 727.3,81.8 727.7,67.8 728.0,75.7 728.3,63.0 728.7,77.5 729.0,71.3 729.3,72.6 729.7,76.9 730.0,76.3 730.3,75.6 730.7,74.0 731.0,74.2 731.3,76.2 731.6,77.3 732.0,91.7 732.3,70.1 732.6,75.2 733.0,88.0 733.3,86.1 733.6,94.8 734.0,100.6 734.3,86.1 734.6,73.8 735.0,83.9 735.3,84.2 735.6,85.8 736.0,83.5 736.3,88.1 736.6,93.6 737.0,93.0 737.3,86.2 737.6,93.6 738.0,103.6 738.3,89.8 738.6,92.7 739.0,87.1 739.3,95.4 739.6,97.0 740.0,98.8 740.3,103.9 740.6,98.8 740.9,104.5 741.3,108.7 741.6,104.5 741.9,104.5 742.3,104.2 742.6,103.7 742.9,96.4 743.3,111.7 743.6,103.9 743.9,112.8 744.3,113.5 744.6,111.0 744.9,121.7 745.3,118.8 745.6,116.0 745.9,129.3 746.3,128.1 746.6,127.1 746.9,126.5 747.3,124.0 747.6,136.9 747.9,124.5 748.3,130.2 748.6,132.8 748.9,148.4 749.3,138.5 749.6,146.4 749.9,140.7 750.3,147.2 750.6,151.1 750.9,155.8 751.2,154.6 751.6,152.3 751.9,165.9 752.2,163.8 752.6,163.6 752.9,165.5 753.2,168.9 753.6,167.9 753.9,170.6 754.2,182.9 754.6,170.3 754.9,183.6 755.2,173.7 755.6,177.6 755.9,191.0 756.2,184.6 756.6,181.0 756.9,182.9 757.2,190.2 757.6,196.4 757.9,189.8 758.2,203.4 758.6,205.3 758.9,197.7 759.2,208.0 759.6,202.6 759.9,211.3 760.2,211.4 760.6,206.1 760.9,213.1 761.2,212.1 761.5,217.4 761.9,220.4 762.2,223.3 762.5,226.1 762.9,223.0 763.2,224.7 763.5,222.1 763.9,229.3 764.2,233.2 764.5,232.4 764.9,230.9 765.2,243.4 765.5,234.1 765.9,245.1 766.2,247.0 766.5,237.2 766.9,244.5 767.2,252.2 767.5,249.5 767.9,249.9 768.2,254.3 768.5,255.0 768.9,259.5 769.2,261.0 769.5,268.4 769.9,270.0 770.2,268.1 770.5,274.9 770.9,270.6 771.2,274.8 771.5,272.9 771.8,275.6 772.2,281.3 772.5,289.8 772.8,287.8 773.2,285.2 773.5,281.0 773.8,288.4 774.2,288.3 774.5,291.4 774.8,300.2 775.2,292.5 775.5,296.2 775.8,300.9 776.2,296.4 776.5,299.6 776.8,293.0 777.2,307.9 777.5,305.4 777.8,304.4 778.2,306.7 778.5,305.3 778.8,305.9 779.2,308.1 779.5,310.2 779.8,313.2 780.2,312.2 780.5,311.5 780.8,314.5 781.1,320.9 781.5,312.9 781.8,319.1 782.1,316.9 782.5,321.2 782.8,318.5 783.1,322.7 783.5,319.6 783.8,321.0 784.1,326.4 784.5,332.4 784.8,326.0 785.1,329.9 785.5,326.5 785.8,328.8 786.1,331.3 786.5,333.5 786.8,334.1 787.1,330.1 787.5,332.1 787.8,335.4 788.1,335.2 788.5,334.8 788.8,337.9 789.1,342.0 789.5,335.8 789.8,340.7 790.1,342.0 790.5,341.6 790.8,344.3 791.1,345.3 791.4,343.5 791.8,346.1 792.1,344.7 792.4,345.5 792.8,343.2 793.1,348.2 793.4,348.3 793.8,350.2 794.1,347.7 794.4,349.7 794.8,350.6 795.1,348.5 795.4,352.1 795.8,352.8 796.1,356.3 796.4,357.7 796.8,356.2 797.1,355.7 797.4,358.5 797.8,358.9 798.1,356.6 798.4,359.5 798.8,360.2 799.1,360.4 799.4,362.3 799.8,359.7 800.1,359.4 800.4,360.7 800.8,360.5 801.1,366.9 801.4,362.9 801.7,365.2 802.1,363.4 802.4,367.3 802.7,365.6 803.1,364.7 803.4,367.1 803.7,368.4 804.1,369.5 804.4,369.0 804.7,370.7 805.1,372.7 805.4,370.6 805.7,369.6 806.1,372.0 806.4,371.6 806.7,371.9 807.1,374.1 807.4,374.8 807.7,376.4 808.1,375.3 808.4,375.4 808.7,377.9 809.1,377.5 809.4,376.0 809.7,378.8 810.1,377.3 810.4,378.2 810.7,379.5 811.1,378.2 811.4,379.0 811.7,380.2 812.0,380.3 812.4,380.2 812.7,380.4 813.0,380.8 813.4,380.7 813.7,382.6 814.0,380.2 814.4,382.6 814.7,383.0 815.0,381.3 815.4,381.9 815.7,385.9 816.0,383.8 816.4,383.0 816.7,383.6 817.0,386.7 817.4,385.7 817.7,386.0 818.0,384.4 818.4,384.4 818.7,385.2 819.0,386.0 819.4,387.2 819.7,385.0 820.0,389.3 820.4,386.1 820.7,386.2 821.0,386.8 821.3,387.4 821.7,387.4 822.0,387.0 822.3,388.8 822.7,387.3 823.0,388.4 823.3,388.5 823.7,392.0 824.0,390.6 824.3,389.4 824.7,390.1 825.0,388.4 825.3,391.5 825.7,388.4 826.0,389.0 826.3,389.9 826.7,390.9 827.0,391.9 827.3,392.1 827.7,391.7 828.0,391.0 828.3,390.3 828.7,390.4 829.0,390.2 829.3,390.4 829.7,392.5 830.0,392.5 830.3,390.8 830.7,393.1 831.0,391.1 831.3,392.4 831.6,394.2 832.0,392.2 832.3,392.6 832.6,393.9 833.0,395.9 833.3,392.9 833.6,392.8 834.0,392.5 834.3,393.1 834.6,394.5 835.0,395.7 835.3,394.1 835.6,393.0 836.0,394.3 836.3,395.7 836.6,396.3 837.0,397.5 837.3,394.4 837.6,394.2 838.0,397.3 838.3,395.7 838.6,393.5 839.0,397.6 839.3,393.6 839.6,394.1 840.0,394.5 840.3,395.1 840.6,395.1 841.0,395.1 841.3,394.1 841.6,397.2 841.9,398.1 842.3,398.4 842.6,396.1 842.9,395.3 843.3,397.3 843.6,396.1 843.9,396.4 844.3,395.5 844.6,396.1 844.9,396.5 845.3,397.8 845.6,397.5 845.9,396.2 846.3,397.1 846.6,395.9 846.9,398.1 847.3,396.5 847.6,397.8 847.9,397.2 848.3,399.6 848.6,397.1 848.9,398.9 849.3,396.7 849.6,397.2 849.9,398.8 850.3,396.6 850.6,396.7 850.9,396.5 851.3,397.1 851.6,398.9 851.9,397.0 852.2,399.9 852.6,399.0 852.9,398.4 853.2,400.5 853.6,397.6 853.9,398.2 854.2,399.1 854.6,401.3 854.9,399.8 855.2,398.3 855.6,398.5 855.9,400.2 856.2,400.6 856.6,399.3 856.9,400.6 857.2,401.1 857.6,398.0 857.9,399.5 858.2,399.2 858.6,399.9 858.9,398.7 859.2,398.8 859.6,400.0 859.9,400.3 860.2,400.4 860.6,399.0 860.9,399.9 861.2,401.3 861.6,398.7 861.9,400.2 862.2,399.7 862.5,398.8 862.9,399.8 863.2,399.5 863.5,400.5 863.9,399.8 864.2,399.6 864.5,400.1 864.9,400.7 865.2,400.8 865.5,401.0 865.9,400.5 866.2,401.3 866.5,400.2 866.9,401.3 867.2,399.9 867.5,400.8 867.9,401.6 868.2,400.5 868.5,402.1 868.9,398.0 869.2,401.8 869.5,401.2 869.9,399.7 870.2,401.7 870.5,402.1 870.9,402.2 871.2,400.1 871.5,402.4 871.8,399.5 872.2,400.6 872.5,401.4 872.8,400.1 873.2,401.3 873.5,401.6 873.8,402.6 874.2,402.8 874.5,401.1 874.8,403.4 875.2,402.9 875.5,402.9 875.8,401.4 876.2,402.8 876.5,401.6 876.8,398.9 877.2,401.4 877.5,399.7 877.8,401.3 878.2,402.6 878.5,402.0 878.8,402.1 879.2,401.0 879.5,400.8 879.8,401.3 880.2,401.9 880.5,402.3 880.8,401.9 881.2,402.4 881.5,402.3 881.8,399.0 882.1,400.6 882.5,402.6 882.8,401.5 883.1,401.2 883.5,401.6 883.8,402.3 884.1,401.2 884.5,401.4 884.8,401.1 885.1,400.5 885.5,402.2 885.8,401.4 886.1,402.1 886.5,402.5 886.8,402.2 887.1,401.4 887.5,402.2 887.8,402.6 888.1,402.4 888.5,401.5 888.8,400.2 889.1,400.3 889.5,403.2 889.8,401.9 890.1,401.0 890.5,402.0 890.8,401.8 891.1,402.6 891.5,401.5 891.8,401.8 892.1,402.5 892.4,401.1 892.8,400.6 893.1,401.2 893.4,402.8 893.8,401.4 894.1,400.9 894.4,400.5 894.8,400.4 895.1,400.7 895.4,401.8 895.8,401.1 896.1,401.0 896.4,401.5 896.8,401.3 897.1,402.7 897.4,401.4 897.8,402.1 898.1,401.8 898.4,400.0 898.8,401.4 899.1,401.4 899.4,402.3 899.8,403.2 900.1,402.9 900.4,402.0 900.8,401.9 901.1,403.4 901.4,402.4 901.8,401.7 902.1,402.5 902.4,402.1 902.7,401.6 903.1,400.5 903.4,401.4 903.7,400.2 904.1,403.1 904.4,400.4 904.7,401.9 905.1,400.7 905.4,399.7 905.7,400.8 906.1,401.3 906.4,400.1 906.7,402.2 907.1,400.7 907.4,401.3 907.7,401.3 908.1,402.3 908.4,401.4 908.7,401.4 909.1,401.7 909.4,401.4 909.7,403.1 910.1,400.8 910.4,402.0 910.7,401.5 911.1,402.4 911.4,402.1 911.7,402.4 912.0,400.5 912.4,402.6 912.7,402.5 913.0,401.9 913.4,403.0 913.7,402.8 914.0,401.5 914.4,401.4 914.7,401.0 915.0,401.3 915.4,402.6 915.7,402.8 916.0,400.7 916.4,403.4 916.7,401.6 917.0,401.1 917.4,400.6 917.7,400.4 918.0,400.7 918.4,399.8 918.7,403.4 919.0,402.0 919.4,401.4 919.7,403.4 920.0,402.5 920.4,400.6 920.7,402.4 921.0,400.7 921.4,401.1 921.7,400.5 922.0,400.9 922.3,401.2 922.7,401.0 923.0,402.6 923.3,400.0 923.7,402.0 924.0,402.5" stroke="#008080" />
<path d="M425.7,389.9 426.0,396.9 426.3,384.1 426.7,383.0 427.0,387.5 427.3,395.4 427.7,390.3 428.0,391.0 428.3,394.1 428.7,393.2 429.0,390.5 429.3,394.1 429.6,392.4 430.0,392.2 430.3,397.1 430.6,393.6 431.0,394.0 431.3,386.5 431.6,392.0 432.0,391.0 432.3,391.7 432.6,392.6 433.0,392.3 433.3,393.0 433.6,400.4 434.0,392.5 434.3,395.0 434.6,393.8 435.0,396.2 435.3,396.1 435.6,392.7 436.0,394.4 436.3,392.5 436.6,391.8 437.0,392.7 437.3,392.3 437.6,394.9 438.0,393.5 438.3,390.3 438.6,393.3 438.9,390.4 439.3,392.3 439.6,388.8 439.9,396.1 440.3,391.5 440.6,389.4 440.9,395.3 441.3,391.9 441.6,391.1 441.9,392.8 442.3,388.9 442.6,391.0 442.9,393.2 443.3,389.2 443.6,390.8 443.9,381.8 444.3,398.0 444.6,391.6 444.9,392.3 445.3,392.1 445.6,399.5 445.9,391.7 446.3,394.2 446.6,389.4 446.9,396.1 447.3,385.7 447.6,392.1 447.9,393.7 448.3,390.7 448.6,397.2 448.9,395.7 449.2,389.6 449.6,392.9 449.9,391.4 450.2,400.0 450.6,396.7 450.9,397.9 451.2,385.4 451.6,392.1 451.9,386.7 452.2,392.5 452.6,387.5 452.9,393.4 453.2,393.0 453.6,391.8 453.9,390.9 454.2,398.6 454.6,391.1 454.9,394.6 455.2,393.5 455.6,392.0 455.9,392.3 456.2,391.0 456.6,386.6 456.9,386.4 457.2,384.0 457.6,392.9 457.9,390.7 458.2,391.4 458.6,391.8 458.9,387.7 459.2,387.1 459.5,390.2 459.9,389.2 460.2,384.9 460.5,390.0 460.9,385.3 461.2,389.2 461.5,387.4 461.9,382.1 462.2,391.0 462.5,387.5 462.9,384.0 463.2,388.1 463.5,383.5 463.9,378.8 464.2,383.0 464.5,388.5 464.9,391.2 465.2,387.3 465.5,390.1 465.9,390.8 466.2,385.1 466.5,385.3 466.9,393.9 467.2,389.6 467.5,391.4 467.9,384.9 468.2,385.9 468.5,383.7 468.9,387.3 469.2,385.1 469.5,384.3 469.8,387.1 470.2,383.5 470.5,393.6 470.8,382.8 471.2,391.7 471.5,387.9 471.8,385.5 472.2,385.9 472.5,391.6 472.8,386.1 473.2,394.6 473.5,387.0 473.8,387.9 474.2,380.3 474.5,387.1 474.8,388.7 475.2,388.5 475.5,389.0 475.8,385.7 476.2,384.8 476.5,379.3 476.8,390.4 477.2,383.1 477.5,390.7 477.8,386.4 478.2,380.8 478.5,380.4 478.8,381.7 479.1,387.1 479.5,381.2 479.8,378.9 480.1,390.0 480.5,386.7 480.8,384.2 481.1,383.5 481.5,383.2 481.8,385.1 482.1,386.8 482.5,382.2 482.8,387.0 483.1,384.8 483.5,382.2 483.8,382.2 484.1,380.5 484.5,380.3 484.8,381.1 485.1,377.9 485.5,388.9 485.8,382.9 486.1,382.8 486.5,384.5 486.8,383.6 487.1,382.1 487.5,384.8 487.8,375.5 488.1,375.6 488.5,385.2 488.8,379.3 489.1,380.0 489.4,382.3 489.8,383.9 490.1,381.2 490.4,382.5 490.8,385.2 491.1,379.6 491.4,382.4 491.8,378.7 492.1,388.0 492.4,386.0 492.8,395.1 493.1,384.6 493.4,387.4 493.8,380.7 494.1,379.0 494.4,382.5 494.8,379.4 495.1,385.6 495.4,387.7 495.8,377.5 496.1,378.9 496.4,379.9 496.8,384.1 497.1,378.7 497.4,380.3 497.8,372.4 498.1,393.0 498.4,387.4 498.8,379.3 499.1,379.7 499.4,381.3 499.7,383.3 500.1,385.1 500.4,376.1 500.7,378.0 501.1,381.1 501.4,380.8 501.7,375.8 502.1,386.3 502.4,386.9 502.7,382.8 503.1,386.4 503.4,378.9 503.7,379.5 504.1,379.4 504.4,383.2 504.7,384.6 505.1,380.6 505.4,390.4 505.7,388.3 506.1,386.2 506.4,387.7 506.7,382.2 507.1,386.7 507.4,379.6 507.7,382.6 508.1,388.7 508.4,391.9 508.7,374.9 509.1,381.0 509.4,380.5 509.7,384.1 510.0,386.0 510.4,376.9 510.7,386.8 511.0,383.8 511.4,382.1 511.7,385.6 512.0,384.3 512.4,384.2 512.7,384.0 513.0,376.0 513.4,381.9 513.7,378.1 514.0,385.5 514.4,384.2 514.7,384.5 515.0,388.2 515.4,382.0 515.7,387.6 516.0,386.6 516.4,382.0 516.7,380.8 517.0,385.1 517.4,381.3 517.7,377.2 518.0,376.2 518.4,378.3 518.7,383.1 519.0,376.8 519.3,382.9 519.7,383.0 520.0,378.0 520.3,380.3 520.7,379.8 521.0,385.0 521.3,382.8 521.7,380.4 522.0,379.6 522.3,379.4 522.7,388.7 523.0,372.7 523.3,378.4 523.7,384.8 524.0,376.9 524.3,382.0 524.7,383.0 525.0,375.0 525.3,385.9 525.7,385.5 526.0,384.9 526.3,383.7 526.7,368.5 527.0,383.2 527.3,385.4 527.7,380.7 528.0,378.4 528.3,376.3 528.7,384.8 529.0,373.5 529.3,380.6 529.6,384.7 530.0,384.4 530.3,379.3 530.6,381.2 531.0,382.9 531.3,380.6 531.6,371.9 532.0,375.4 532.3,383.2 532.6,384.0 533.0,377.2 533.3,385.4 533.6,388.5 534.0,385.0 534.3,386.5 534.6,387.1 535.0,382.2 535.3,384.4 535.6,382.6 536.0,379.8 536.3,383.4 536.6,387.1 537.0,385.0 537.3,377.9 537.6,385.6 538.0,385.8 538.3,379.6 538.6,385.0 539.0,385.0 539.3,380.2 539.6,381.8 539.9,383.4 540.3,382.9 540.6,376.9 540.9,379.8 541.3,384.0 541.6,382.9 541.9,374.8 542.3,382.0 542.6,379.7 542.9,379.9 543.3,383.1 543.6,380.4 543.9,384.9 544.3,382.1 544.6,376.4 544.9,381.7 545.3,374.9 545.6,380.2 545.9,378.9 546.3,380.5 546.6,384.5 546.9,376.7 547.3,375.3 547.6,379.7 547.9,380.9 548.3,381.9 548.6,378.9 548.9,376.6 549.3,377.3 549.6,379.8 549.9,380.8 550.2,380.3 550.6,381.5 550.9,385.2 551.2,372.8 551.6,384.1 551.9,384.7 552.2,375.1 552.6,378.9 552.9,378.7 553.2,383.0 553.6,380.9 553.9,377.7 554.2,369.7 554.6,378.7 554.9,380.2 555.2,378.1 555.6,380.6 555.9,383.9 556.2,387.9 556.6,378.8 556.9,386.6 557.2,376.0 557.6,382.9 557.9,382.7 558.2,385.6 558.6,385.1 558.9,383.5 559.2,379.7 559.6,382.8 559.9,381.5 560.2,383.1 560.5,378.9 560.9,379.3 561.2,379.0 561.5,385.0 561.9,384.1 562.2,386.1 562.5,378.0 562.9,391.4 563.2,374.7 563.5,382.1 563.9,383.4 564.2,380.1 564.5,381.9 564.9,382.2 565.2,379.2 565.5,378.4 565.9,382.8 566.2,374.3 566.5,386.0 566.9,377.2 567.2,379.6 567.5,384.8 567.9,377.2 568.2,375.3 568.5,386.9 568.9,378.1 569.2,380.9 569.5,379.6 569.8,387.2 570.2,378.0 570.5,375.7 570.8,379.2 571.2,383.1 571.5,381.7 571.8,379.0 572.2,381.0 572.5,385.7 572.8,384.9 573.2,386.2 573.5,380.0 573.8,372.7 574.2,374.7 574.5,380.9 574.8,380.8 575.2,376.2 575.5,377.1 575.8,374.8 576.2,378.0 576.5,381.3 576.8,377.3 577.2,372.6 577.5,378.5 577.8,371.2 578.2,383.0 578.5,380.7 578.8,378.4 579.2,379.7 579.5,375.6 579.8,377.9 580.1,376.5 580.5,373.0 580.8,383.9 581.1,380.1 581.5,370.9 581.8,380.2 582.1,383.2 582.5,382.2 582.8,383.4 583.1,379.3 583.5,377.6 583.8,377.2 584.1,375.4 584.5,379.1 584.8,375.1 585.1,373.8 585.5,383.9 585.8,382.2 586.1,376.2 586.5,382.8 586.8,373.5 587.1,380.3 587.5,380.3 587.8,377.1 588.1,368.0 588.5,382.0 588.8,377.5 589.1,380.2 589.5,374.7 589.8,377.5 590.1,377.0 590.4,374.7 590.8,377.5 591.1,376.2 591.4,374.1 591.8,376.2 592.1,376.9 592.4,379.3 592.8,373.8 593.1,374.8 593.4,375.7 593.8,377.6 594.1,376.8 594.4,378.6 594.8,367.0 595.1,371.6 595.4,365.6 595.8,380.9 596.1,380.1 596.4,372.1 596.8,373.9 597.1,374.8 597.4,375.2 597.8,373.5 598.1,382.9 598.4,361.6 598.8,373.0 599.1,372.3 599.4,367.1 599.8,371.6 600.1,369.2 600.4,367.3 600.7,366.6 601.1,367.3 601.4,364.5 601.7,364.0 602.1,367.7 602.4,365.4 602.7,369.5 603.1,363.3 603.4,371.9 603.7,371.8 604.1,368.5 604.4,362.5 604.7,366.6 605.1,365.0 605.4,357.5 605.7,355.2 606.1,352.2 606.4,356.2 606.7,357.6 607.1,357.6 607.4,364.1 607.7,358.1 608.1,358.7 608.4,352.9 608.7,354.6 609.1,360.7 609.4,357.3 609.7,353.0 610.0,354.1 610.4,357.2 610.7,349.9 611.0,362.0 611.4,350.2 611.7,356.3 612.0,358.7 612.4,352.9 612.7,345.6 613.0,357.6 613.4,350.6 613.7,349.3 614.0,350.9 614.4,350.2 614.7,348.3 615.0,346.2 615.4,339.7 615.7,359.1 616.0,344.3 616.4,340.7 616.7,352.7 617.0,340.8 617.4,338.6 617.7,344.6 618.0,340.8 618.4,344.3 618.7,346.9 619.0,342.9 619.4,343.0 619.7,334.5 620.0,341.6 620.3,334.5 620.7,332.8 621.0,330.6 621.3,335.7 621.7,332.7 622.0,338.5 622.3,339.0 622.7,325.2 623.0,327.2 623.3,337.0 623.7,335.6 624.0,321.8 624.3,328.3 624.7,323.0 625.0,320.6 625.3,328.4 625.7,322.1 626.0,332.1 626.3,325.5 626.7,320.4 627.0,316.5 627.3,322.9 627.7,319.3 628.0,325.7 628.3,315.6 628.7,326.6 629.0,320.7 629.3,318.7 629.7,322.0 630.0,319.4 630.3,316.9 630.6,309.1 631.0,310.0 631.3,310.6 631.6,309.5 632.0,308.4 632.3,314.9 632.6,310.5 633.0,308.9 633.3,302.4 633.6,303.8 634.0,301.5 634.3,310.2 634.6,293.5 635.0,305.1 635.3,306.0 635.6,299.1 636.0,296.6 636.3,298.2 636.6,287.4 637.0,298.0 637.3,296.4 637.6,300.3 638.0,283.5 638.3,292.2 638.6,291.2 639.0,298.5 639.3,291.4 639.6,288.3 640.0,281.4 640.3,276.8 640.6,274.3 640.9,284.4 641.3,277.1 641.6,267.6 641.9,271.7 642.3,269.0 642.6,264.7 642.9,267.9 643.3,269.3 643.6,252.2 643.9,276.5 644.3,264.0 644.6,259.6 644.9,261.7 645.3,261.0 645.6,262.1 645.9,250.7 646.3,268.6 646.6,262.8 646.9,263.1 647.3,257.0 647.6,254.5 647.9,246.9 648.3,241.0 648.6,252.1 648.9,244.6 649.3,228.8 649.6,236.3 649.9,251.5 650.2,233.5 650.6,236.6 650.9,235.4 651.2,231.7 651.6,226.7 651.9,229.1 652.2,222.4 652.6,225.5 652.9,219.9 653.2,220.8 653.6,229.7 653.9,232.8 654.2,205.9 654.6,224.8 654.9,224.9 655.2,207.1 655.6,204.8 655.9,213.0 656.2,199.9 656.6,212.3 656.9,209.4 657.2,215.4 657.6,186.8 657.9,200.3 658.2,193.7 658.6,210.5 658.9,192.1 659.2,208.8 659.6,198.0 659.9,185.4 660.2,177.4 660.5,174.3 660.9,186.1 661.2,195.0 661.5,179.4 661.9,184.8 662.2,173.4 662.5,173.8 662.9,161.6 663.2,169.5 663.5,174.7 663.9,168.0 664.2,173.2 664.5,173.2 664.9,172.8 665.2,168.5 665.5,170.4 665.9,163.3 666.2,175.3 666.5,165.0 666.9,154.3 667.2,165.0 667.5,165.9 667.9,139.4 668.2,158.7 668.5,137.0 668.9,152.0 669.2,145.5 669.5,140.7 669.9,153.2 670.2,153.3 670.5,144.0 670.8,144.0 671.2,135.2 671.5,145.3 671.8,145.7 672.2,136.2 672.5,144.0 672.8,144.5 673.2,131.9 673.5,137.2 673.8,144.8 674.2,122.9 674.5,132.1 674.8,150.1 675.2,134.9 675.5,116.9 675.8,125.3 676.2,130.8 676.5,121.1 676.8,128.5 677.2,124.4 677.5,116.2 677.8,128.2 678.2,100.2 678.5,142.2 678.8,131.0 679.2,106.0 679.5,110.5 679.8,94.3 680.2,105.4 680.5,99.7 680.8,103.2 681.1,110.9 681.5,126.0 681.8,110.1 682.1,102.0 682.5,103.0 682.8,113.9 683.1,94.3 683.5,107.3 683.8,112.2 684.1,100.7 684.5,101.3 684.8,111.8 685.1,108.9 685.5,96.6 685.8,79.6 686.1,122.2 686.5,120.7 686.8,102.6 687.1,99.1 687.5,85.6 687.8,109.8 688.1,89.5 688.5,88.1 688.8,81.4 689.1,96.4 689.5,97.5 689.8,90.8 690.1,93.0 690.4,91.9 690.8,90.9 691.1,77.1 691.4,86.3 691.8,84.7 692.1,75.3 692.4,83.5 692.8,77.2 693.1,94.3 693.4,76.8 693.8,76.3 694.1,82.6 694.4,80.8 694.8,83.0 695.1,60.9 695.4,74.2 695.8,79.6 696.1,78.5 696.4,81.4 696.8,68.5 697.1,69.1 697.4,79.2 697.8,78.3 698.1,67.7 698.4,82.9 698.8,59.3 699.1,69.7 699.4,77.2 699.8,69.1 700.1,91.5 700.4,66.7 700.7,79.5 701.1,63.5 701.4,64.9 701.7,83.1 702.1,60.0 702.4,79.3 702.7,79.8 703.1,66.4 703.4,68.2 703.7,85.7 704.1,78.0 704.4,86.9 704.7,91.2 705.1,89.4 705.4,79.2 705.7,102.9 706.1,82.6 706.4,94.2 706.7,89.6 707.1,74.9 707.4,83.9 707.7,93.1 708.1,71.9 708.4,107.2 708.7,91.5 709.1,83.3 709.4,107.4 709.7,90.1 710.1,98.6 710.4,80.6 710.7,89.5 711.0,93.8 711.4,115.7 711.7,104.5 712.0,86.5 712.4,96.3 712.7,112.6 713.0,108.9 713.4,125.8 713.7,108.3 714.0,120.6 714.4,126.2 714.7,123.3 715.0,107.4 715.4,131.3 715.7,145.0 716.0,98.4 716.4,124.7 716.7,126.1 717.0,134.1 717.4,113.3 717.7,119.2 718.0,119.8 718.4,123.8 718.7,121.0 719.0,126.8 719.4,133.7 719.7,123.8 720.0,132.2 720.4,140.7 720.7,133.6 721.0,155.8 721.3,137.8 721.7,146.5 722.0,155.2 722.3,137.3 722.7,125.5 723.0,133.4 723.3,140.4 723.7,154.0 724.0,160.9 724.3,152.4 724.7,156.6 725.0,149.4 725.3,137.2 725.7,146.4 726.0,151.7 726.3,152.6 726.7,170.8 727.0,152.0 727.3,157.9 727.7,167.2 728.0,162.6 728.3,165.0 728.7,159.2 729.0,170.0 729.3,157.2 729.7,167.9 730.0,173.8 730.3,158.9 730.7,173.7 731.0,173.7 731.3,184.1 731.6,166.7 732.0,178.4 732.3,175.1 732.6,183.7 733.0,180.7 733.3,195.3 733.6,190.2 734.0,198.7 734.3,192.6 734.6,185.9 735.0,197.8 735.3,196.2 735.6,196.0 736.0,186.2 736.3,194.9 736.6,216.1 737.0,194.7 737.3,220.2 737.6,220.5 738.0,209.4 738.3,201.0 738.6,220.9 739.0,225.9 739.3,221.1 739.6,219.3 740.0,212.2 740.3,223.6 740.6,228.8 740.9,230.7 741.3,228.3 741.6,227.5 741.9,239.8 742.3,235.5 742.6,230.4 742.9,221.4 743.3,235.3 743.6,255.8 743.9,245.6 744.3,240.1 744.6,246.7 744.9,237.5 745.3,248.8 745.6,244.6 745.9,246.3 746.3,254.1 746.6,255.8 746.9,256.0 747.3,262.2 747.6,255.9 747.9,262.0 748.3,258.7 748.6,267.1 748.9,250.8 749.3,259.2 749.6,254.9 749.9,269.4 750.3,269.0 750.6,264.8 750.9,267.1 751.2,268.7 751.6,266.9 751.9,270.3 752.2,267.6 752.6,279.5 752.9,271.4 753.2,300.8 753.6,278.4 753.9,283.3 754.2,286.2 754.6,284.7 754.9,286.6 755.2,285.1 755.6,294.8 755.9,293.7 756.2,289.3 756.6,296.0 756.9,296.8 757.2,292.6 757.6,295.8 757.9,301.6 758.2,304.2 758.6,298.0 758.9,298.0 759.2,300.1 759.6,302.0 759.9,307.8 760.2,312.1 760.6,309.3 760.9,311.1 761.2,315.0 761.5,311.7 761.9,298.7 762.2,318.5 762.5,319.0 762.9,314.8 763.2,323.8 763.5,323.5 763.9,325.0 764.2,324.4 764.5,321.3 764.9,324.1 765.2,335.5 765.5,331.2 765.9,335.9 766.2,330.6 766.5,336.0 766.9,329.5 767.2,326.6 767.5,338.8 767.9,337.6 768.2,336.0 768.5,344.2 768.9,349.1 769.2,340.9 769.5,342.8 769.9,354.2 770.2,346.7 770.5,349.7 770.9,351.2 771.2,349.0 771.5,356.6 771.8,357.2 772.2,345.8 772.5,349.3 772.8,353.2 773.2,353.0 773.5,352.8 773.8,354.6 774.2,344.8 774.5,358.6 774.8,353.9 775.2,362.2 775.5,354.9 775.8,350.5 776.2,359.0 776.5,362.7 776.8,367.0 777.2,355.4 777.5,363.9 777.8,360.4 778.2,358.7 778.5,366.3 778.8,362.4 779.2,357.3 779.5,367.2 779.8,365.2 780.2,364.3 780.5,371.7 780.8,367.0 781.1,361.7 781.5,357.3 781.8,370.3 782.1,366.4 782.5,365.5 782.8,368.5 783.1,370.2 783.5,368.8 783.8,370.1 784.1,372.0 784.5,369.8 784.8,369.7 785.1,378.9 785.5,369.1 785.8,370.8 786.1,369.9 786.5,378.8 786.8,362.5 787.1,370.9 787.5,377.9 787.8,367.0 788.1,369.0 788.5,374.1 788.8,367.0 789.1,370.0 789.5,376.6 789.8,375.5 790.1,371.2 790.5,366.4 790.8,375.1 791.1,367.7 791.4,373.0 791.8,376.8 792.1,368.6 792.4,377.9 792.8,375.2 793.1,383.3 793.4,376.1 793.8,371.6 794.1,380.2 794.4,381.5 794.8,369.1 795.1,372.9 795.4,378.7 795.8,376.2 796.1,368.2 796.4,381.0 796.8,372.3 797.1,374.3 797.4,375.1 797.8,377.1 798.1,373.7 798.4,380.8 798.8,376.8 799.1,371.8 799.4,378.1 799.8,377.0 800.1,374.1 800.4,384.5 800.8,386.5 801.1,372.5 801.4,377.0 801.7,376.4 802.1,380.3 802.4,378.4 802.7,375.6 803.1,379.2 803.4,381.3 803.7,382.7 804.1,385.3 804.4,389.2 804.7,381.2 805.1,381.5 805.4,369.9 805.7,382.4 806.1,384.6 806.4,372.6 806.7,383.2 807.1,381.7 807.4,376.5 807.7,376.5 808.1,376.6 808.4,378.0 808.7,384.5 809.1,383.4 809.4,382.8 809.7,378.5 810.1,382.1 810.4,376.9 810.7,380.2 811.1,380.0 811.4,390.2 811.7,380.8 812.0,385.6 812.4,378.0 812.7,382.3 813.0,378.8 813.4,379.1 813.7,384.0 814.0,384.7 814.4,377.7 814.7,376.7 815.0,385.2 815.4,388.5 815.7,378.8 816.0,388.0 816.4,382.5 816.7,390.6 817.0,378.1 817.4,381.0 817.7,384.1 818.0,387.5 818.4,393.7 818.7,383.1 819.0,380.1 819.4,381.9 819.7,388.0 820.0,380.0 820.4,381.6 820.7,389.3 821.0,389.8 821.3,387.0 821.7,378.3 822.0,385.7 822.3,376.3 822.7,378.3 823.0,390.0 823.3,384.4 823.7,370.3 824.0,383.5 824.3,380.7 824.7,382.1 825.0,384.6 825.3,386.5 825.7,382.5 826.0,382.0 826.3,381.4 826.7,380.4 827.0,388.2 827.3,387.5 827.7,380.9 828.0,383.3 828.3,391.5 828.7,387.8 829.0,374.7 829.3,385.5 829.7,385.2 830.0,382.8 830.3,382.4 830.7,389.8 831.0,387.1 831.3,378.2 831.6,388.2 832.0,384.2 832.3,378.8 832.6,384.9 833.0,384.8 833.3,388.1 833.6,387.6 834.0,380.2 834.3,382.4 834.6,383.6 835.0,386.7 835.3,378.3 835.6,377.8 836.0,384.2 836.3,388.1 836.6,389.1 837.0,376.0 837.3,374.7 837.6,387.5 838.0,384.2 838.3,392.9 838.6,388.2 839.0,377.5 839.3,382.0 839.6,381.8 840.0,386.4 840.3,389.2 840.6,386.4 841.0,380.8 841.3,383.7 841.6,382.7 841.9,382.7 842.3,388.2 842.6,384.8 842.9,388.9 843.3,389.6 843.6,383.5 843.9,390.6 844.3,379.5 844.6,384.6 844.9,390.8 845.3,387.8 845.6,389.8 845.9,381.8 846.3,383.3 846.6,385.4 846.9,379.1 847.3,385.4 847.6,386.6 847.9,389.3 848.3,390.4 848.6,384.2 848.9,382.5 849.3,386.1 849.6,384.6 849.9,385.6 850.3,379.1 850.6,385.0 850.9,381.3 851.3,386.6 851.6,389.2 851.9,392.0 852.2,390.2 852.6,384.4 852.9,390.0 853.2,381.8 853.6,387.7 853.9,393.5 854.2,385.5 854.6,388.2 854.9,378.9 855.2,383.6 855.6,390.3 855.9,386.0 856.2,391.9 856.6,392.5 856.9,386.7 857.2,384.4 857.6,388.4 857.9,382.0 858.2,393.6 858.6,384.4 858.9,385.6 859.2,392.4 859.6,384.9 859.9,387.8 860.2,382.0 860.6,392.8 860.9,384.1 861.2,387.8 861.6,380.8 861.9,376.7 862.2,388.3 862.5,387.9 862.9,387.2 863.2,387.2 863.5,383.0 863.9,389.1 864.2,389.9 864.5,387.2 864.9,387.0 865.2,381.4 865.5,389.2 865.9,389.4 866.2,384.8 866.5,385.1 866.9,391.1 867.2,388.6 867.5,392.5 867.9,384.3 868.2,390.5 868.5,389.9 868.9,388.9 869.2,390.9 869.5,387.2 869.9,384.0 870.2,386.4 870.5,379.2 870.9,387.0 871.2,394.0 871.5,387.7 871.8,389.9 872.2,384.0 872.5,388.5 872.8,386.3 873.2,393.1 873.5,390.5 873.8,387.2 874.2,389.1 874.5,387.7 874.8,381.5 875.2,392.6 875.5,392.5 875.8,382.8 876.2,387.0 876.5,390.6 876.8,386.4 877.2,384.3 877.5,390.8 877.8,384.4 878.2,388.5 878.5,382.6 878.8,396.5 879.2,380.8 879.5,388.4 879.8,383.5 880.2,390.4 880.5,386.2 880.8,383.8 881.2,387.7 881.5,389.7 881.8,390.9 882.1,390.9 882.5,385.1 882.8,391.9 883.1,385.5 883.5,388.1 883.8,389.2 884.1,391.0 884.5,390.1 884.8,396.1 885.1,386.0 885.5,390.2 885.8,383.7 886.1,391.4 886.5,391.6 886.8,388.7 887.1,390.1 887.5,393.0 887.8,396.4 888.1,391.9 888.5,391.0 888.8,386.0 889.1,385.8 889.5,392.6 889.8,385.7 890.1,392.7 890.5,391.4 890.8,390.4 891.1,392.2 891.5,385.9 891.8,382.9 892.1,392.8 892.4,387.4 892.8,388.9 893.1,387.0 893.4,391.1 893.8,384.1 894.1,386.4 894.4,386.9 894.8,381.1 895.1,391.7 895.4,389.2 895.8,386.3 896.1,385.1 896.4,388.7 896.8,386.5 897.1,383.5 897.4,389.8 897.8,390.1 898.1,388.9 898.4,398.6 898.8,387.0 899.1,387.1 899.4,381.6 899.8,394.5 900.1,388.1 900.4,387.7 900.8,386.6 901.1,393.9 901.4,401.2 901.8,389.2 902.1,388.4 902.4,388.4 902.7,392.0 903.1,392.7 903.4,389.9 903.7,393.1 904.1,393.1 904.4,388.5 904.7,387.5 905.1,393.8 905.4,396.6 905.7,393.5 906.1,387.0 906.4,390.9 906.7,387.1 907.1,387.4 907.4,385.3 907.7,391.1 908.1,389.3 908.4,386.5 908.7,391.5 909.1,393.5 909.4,385.6 909.7,384.1 910.1,393.2 910.4,387.9 910.7,388.2 911.1,389.1 911.4,391.4 911.7,393.2 912.0,394.5 912.4,386.3 912.7,390.0 913.0,387.8 913.4,397.0 913.7,386.3 914.0,386.5 914.4,389.0 914.7,382.3 915.0,389.3 915.4,389.6 915.7,393.8 916.0,392.7 916.4,388.4 916.7,389.0 917.0,385.8 917.4,392.5 917.7,388.4 918.0,393.8 918.4,391.0 918.7,392.8 919.0,398.9 919.4,387.4 919.7,393.9 920.0,393.8 920.4,389.9 920.7,394.9 921.0,394.1 921.4,400.3 921.7,390.7 922.0,388.2 922.3,392.3 922.7,386.5 923.0,385.1 923.3,388.1 923.7,391.9 924.0,388.0" stroke="#ff00ff" />
</g>
<line x1="424" y1="42.5" x2="465.5" y2="42.5" stroke="#000" stroke-width="3"/>
<text x="469.8" y="49.8" font-family='"Liberation Sans", sans-serif' font-size="17.9" fill="#111">0 ml APTES</text>
<line x1="424" y1="64.3" x2="465.5" y2="64.3" stroke="#f00" stroke-width="3"/>
<text x="469.8" y="71.6" font-family='"Liberation Sans", sans-serif' font-size="17.9" fill="#111">0.25 ml APTES</text>
<line x1="424" y1="86.1" x2="465.5" y2="86.1" stroke="#00f" stroke-width="3"/>
<text x="469.8" y="93.4" font-family='"Liberation Sans", sans-serif' font-size="17.9" fill="#111">0.5 ml APTES</text>
<line x1="424" y1="107.9" x2="465.5" y2="107.9" stroke="#008080" stroke-width="3"/>
<text x="469.8" y="115.2" font-family='"Liberation Sans", sans-serif' font-size="17.9" fill="#111">0.75 ml APTES</text>
<line x1="424" y1="129.7" x2="465.5" y2="129.7" stroke="#f0f" stroke-width="3"/>
<text x="469.8" y="137.0" font-family='"Liberation Sans", sans-serif' font-size="17.9" fill="#111">1.0 ml APTES</text>
<text x="418.8" y="410.1" text-anchor="end" font-family='"Liberation Sans", sans-serif' font-size="24" fill="#111">0.0</text>
<text x="418.8" y="342.8" text-anchor="end" font-family='"Liberation Sans", sans-serif' font-size="24" fill="#111">0.2</text>
<text x="418.8" y="275.5" text-anchor="end" font-family='"Liberation Sans", sans-serif' font-size="24" fill="#111">0.4</text>
<text x="418.8" y="208.3" text-anchor="end" font-family='"Liberation Sans", sans-serif' font-size="24" fill="#111">0.6</text>
<text x="418.8" y="141.0" text-anchor="end" font-family='"Liberation Sans", sans-serif' font-size="24" fill="#111">0.8</text>
<text x="418.8" y="73.7" text-anchor="end" font-family='"Liberation Sans", sans-serif' font-size="24" fill="#111">1.0</text>
<text x="425.7" y="428.6" text-anchor="middle" font-family='"Liberation Sans", sans-serif' font-size="23.6" fill="#111">400</text>
<text x="525.3" y="428.6" text-anchor="middle" font-family='"Liberation Sans", sans-serif' font-size="23.6" fill="#111">500</text>
<text x="625.0" y="428.6" text-anchor="middle" font-family='"Liberation Sans", sans-serif' font-size="23.6" fill="#111">600</text>
<text x="724.7" y="428.6" text-anchor="middle" font-family='"Liberation Sans", sans-serif' font-size="23.6" fill="#111">700</text>
<text x="824.3" y="428.6" text-anchor="middle" font-family='"Liberation Sans", sans-serif' font-size="23.6" fill="#111">800</text>
<text x="924.0" y="428.6" text-anchor="middle" font-family='"Liberation Sans", sans-serif' font-size="23.6" fill="#111">900</text>
<text x="674.5" y="468.8" text-anchor="middle" font-family='"Liberation Sans", sans-serif' font-size="25.8" fill="#111">Wavelength (nm)</text>
<text transform="translate(375,216.2) rotate(-90)" x="0" y="0" text-anchor="middle" font-family='"Liberation Sans", sans-serif' font-size="25.6" fill="#111">Intensity (normalized to max.)</text>
<text x="669.1" y="55.8" font-family='"Liberation Sans", sans-serif' font-size="19.5" word-spacing="2.5" letter-spacing="0.3" fill="#111">675 nm</text>
<text x="784.4" y="55.8" font-family='"Liberation Sans", sans-serif' font-size="19.5" word-spacing="2.5" letter-spacing="0.3" fill="#111">819 nm</text>
<line x1="747" y1="49.1" x2="778" y2="49.1" stroke="#f00" stroke-width="1"/>
<path d="M741.4,49.1 L749,45.9 L748,49.1 L749,52.3 Z" fill="#f00"/>
<text x="882.5" y="67.8" font-family='"Liberation Serif", serif' font-size="37.5" fill="#111">b.</text>
</svg>
<svg class="abs" style="left:0;top:0" width="1474" height="487" viewBox="0 0 1474 487">
<defs>
<clipPath id="cQ1"><rect x="963" y="24" width="248" height="219"/></clipPath>
<clipPath id="cQ2"><rect x="1211" y="24" width="246" height="219"/></clipPath>
<clipPath id="cQ3"><rect x="963" y="243" width="248" height="215"/></clipPath>
<clipPath id="cQ4"><rect x="1211" y="243" width="246" height="215"/></clipPath>
<linearGradient id="q1bl" x1="963" y1="0" x2="1075" y2="0" gradientUnits="userSpaceOnUse">
 <stop offset="0" stop-color="#959696"/><stop offset="0.4" stop-color="#a6a7a7"/><stop offset="1" stop-color="#bebfbf"/></linearGradient>
<linearGradient id="q1br" x1="1075" y1="0" x2="1211" y2="0" gradientUnits="userSpaceOnUse">
 <stop offset="0" stop-color="#b4b6b6"/><stop offset="0.6" stop-color="#c2c5c5"/><stop offset="1" stop-color="#cacdcd"/></linearGradient>
<filter id="cb2" x="-50%" y="-50%" width="200%" height="200%"><feGaussianBlur stdDeviation="2"/></filter>
<filter id="cb5" x="-50%" y="-50%" width="200%" height="200%"><feGaussianBlur stdDeviation="5"/></filter>
<filter id="cb10" x="-50%" y="-50%" width="200%" height="200%"><feGaussianBlur stdDeviation="10"/></filter>
<filter id="cb3" x="-50%" y="-50%" width="200%" height="200%"><feGaussianBlur stdDeviation="3"/></filter>
<filter id="cb0" x="-50%" y="-50%" width="200%" height="200%"><feGaussianBlur stdDeviation="0.8"/></filter>
<radialGradient id="q4blue" cx="1457" cy="243" r="140" gradientUnits="userSpaceOnUse">
 <stop offset="0" stop-color="#1010f0"/><stop offset="0.25" stop-color="#1a50f8"/><stop offset="0.55" stop-color="#00c8ff"/><stop offset="0.8" stop-color="#00f4ff" stop-opacity="0"/></radialGradient>
<linearGradient id="q3left" x1="963" y1="0" x2="1040" y2="0" gradientUnits="userSpaceOnUse">
 <stop offset="0" stop-color="#0a14f0"/><stop offset="0.2" stop-color="#1a40f2"/><stop offset="0.5" stop-color="#1c90f8"/><stop offset="0.75" stop-color="#08dcff"/><stop offset="1" stop-color="#00f0ff"/></linearGradient>
<radialGradient id="q3br" cx="1211" cy="458" r="85" gradientUnits="userSpaceOnUse">
 <stop offset="0" stop-color="#1430f4"/><stop offset="0.35" stop-color="#1870fa"/><stop offset="0.7" stop-color="#08c8ff"/><stop offset="1" stop-color="#00f0ff" stop-opacity="0"/></radialGradient>
<radialGradient id="q3bl" cx="963" cy="458" r="70" gradientUnits="userSpaceOnUse">
 <stop offset="0" stop-color="#1430f4"/><stop offset="0.5" stop-color="#1c70f8" stop-opacity="0.6"/><stop offset="1" stop-color="#00f0ff" stop-opacity="0"/></radialGradient>
</defs>
<g clip-path="url(#cQ1)">
<rect x="963" y="24" width="248" height="219" fill="#b2b4b4"/>
<g filter="url(#cb10)">
<path d="M950,10 L1035,10 L1030,98 L950,85 Z" fill="#9a9a9a"/>
<path d="M1040,10 L1100,10 L1096,100 L1032,96 Z" fill="#b0b0b0"/>
<path d="M1100,10 L1225,10 L1225,140 L1105,118 Z" fill="#cdd0cf"/>
<path d="M950,96 L1075,118 L1072,250 L950,250 Z" fill="url(#q1bl)"/>
<path d="M1076,130 L1225,150 L1225,250 L1072,250 Z" fill="url(#q1br)"/>
</g>
<g filter="url(#cb0)" stroke-width="1.2" fill="none">
<path d="M963,88 L1024,98 L1075,118" stroke="#c4c4c4"/>
<path d="M1030,24 L1027,96" stroke="#b0b0b0" stroke-opacity="0.5"/>
<path d="M1096,24 L1094,98" stroke="#d4d6d6" stroke-opacity="0.7"/>
<path d="M1106,124 L1211,148" stroke="#d0d2d2"/>
<path d="M1080,137 L1074,243" stroke="#bcbcbc" stroke-opacity="0.6"/>
</g>
<g filter="url(#cb0)"><path d="M1076,107 L1082,101 L1088,102 L1092,98 L1098,100 L1100,106 L1104,112 L1107,119 L1106,127 L1100,133 L1092,136 L1085,138 L1078,135 L1074,127 L1074,116 Z" fill="#2a1614"/>
<circle cx="1088" cy="112" r="2" fill="#4a2a26"/><circle cx="1096" cy="125" r="1.5" fill="#4a2a26"/></g>
<rect x="1040" y="204" width="100.5" height="40" fill="#ffffff"/>
<text x="1049.8" y="229.3" font-family='"Liberation Serif", serif' font-size="23.2" fill="#111" letter-spacing="-0.7">FAPbI<tspan font-size="16.5" dy="4.5">3</tspan></text>
</g>
<g clip-path="url(#cQ2)">
<rect x="1211" y="24" width="246" height="219" fill="#c4bed0"/>
<g filter="url(#cb10)">
<path d="M1200,10 L1470,10 L1470,60 L1380,112 L1320,118 L1211,85 Z" fill="#c8c0d6"/>
<path d="M1320,10 L1470,10 L1470,100 L1370,112 Z" fill="#d0cce8"/>
<path d="M1200,90 L1300,124 L1290,250 L1200,250 Z" fill="#b2aab4"/>
<path d="M1290,150 L1368,160 L1380,250 L1285,250 Z" fill="#aca6b0"/>
<path d="M1368,170 L1470,200 L1470,250 L1380,250 Z" fill="#c2bece"/>
<path d="M1370,112 L1470,40 L1470,190 L1370,160 Z" fill="#c6c2d0"/>
</g>
<g filter="url(#cb5)"><path d="M1290,100 L1325,65 L1350,50 L1340,78 L1300,112 Z" fill="#ecebf6"/>
<path d="M1366,163 L1420,182 L1460,205 L1460,235 L1420,215 L1375,190 Z" fill="#dedcf0"/></g>
<g filter="url(#cb0)" stroke-width="1.4" fill="none">
<path d="M1211,84 L1300,118 L1316,126" stroke="#e4e2ee"/>
<path d="M1366,114 L1445,26" stroke="#eeeef8"/>
<path d="M1315,160 L1285,205" stroke="#d8d6de" stroke-opacity="0.8"/>
<path d="M1368,160 L1457,196" stroke="#eceaf4"/>
</g>
<g filter="url(#cb0)"><path d="M1318,118 L1330,114 L1345,115 L1358,111 L1366,113 L1368,128 L1366,145 L1366,158 L1345,160 L1330,162 L1320,160 L1316,146 L1318,132 Z" fill="#0c0a0c"/>
<circle cx="1372" cy="142" r="1.2" fill="#303030"/><circle cx="1312" cy="135" r="1.2" fill="#404040"/></g>
<rect x="1256" y="200.5" width="175.6" height="40" fill="#ffffff"/>
<text x="1265.6" y="226.2" font-family='"Liberation Serif", serif' font-size="23" fill="#111" letter-spacing="-0.5">FAPbI<tspan font-size="16" dy="4.5">3</tspan><tspan dy="-4.5">@SiO</tspan><tspan font-size="16" dy="4.5">2</tspan></text>
<text x="1414" y="61.5" font-family='"Liberation Serif", serif' font-size="35" fill="#111">c.</text>
</g>
<g clip-path="url(#cQ3)">
<rect x="963" y="243" width="248" height="215" fill="#00f0ff"/>
<rect x="963" y="243" width="80" height="215" fill="url(#q3left)"/>
<g filter="url(#cb5)"><path d="M950,235 L976,235 L980,300 L990,370 L996,420 L990,470 L950,470 Z" fill="#1020f0" opacity="0.9"/>
<ellipse cx="1000" cy="290" rx="9" ry="22" fill="#40a0f8" opacity="0.5"/>
<ellipse cx="1010" cy="360" rx="8" ry="20" fill="#40c0fa" opacity="0.5"/>
<ellipse cx="985" cy="300" rx="8" ry="18" fill="#3070f4" opacity="0.4"/></g>
<path d="M1120,372 L1211,408 L1211,458 L1100,458 Z" fill="url(#q3br)"/>
<g filter="url(#cb10)"><path d="M1032,232 L1204,232 C1204,300 1198,356 1176,380 L1150,388 C1138,418 1120,446 1090,449 C1056,451 1026,438 1021,404 C1019,360 1026,300 1032,232 Z" fill="#90faff"/></g>
<g filter="url(#cb5)"><path d="M1040,236 L1197,236 C1197,300 1191,350 1171,372 L1143,380 C1131,410 1116,436 1090,441 C1060,443 1034,431 1029,400 C1027,360 1033,300 1040,236 Z" fill="#ffffff"/></g>
<g filter="url(#cb0)"><path d="M1140,376 L1211,410" stroke="#40e8ff" stroke-width="1.5" opacity="0.7"/></g>
<g filter="url(#cb0)"><path d="M1070,332 L1078,325 L1088,321 L1096,316 L1103,318 L1108,328 L1110,340 L1112,355 L1106,363 L1094,365 L1082,367 L1071,366 L1068,352 Z" fill="#4a1ee4"/>
<path d="M1074,334 L1092,348 L1104,336 M1072,350 L1090,340 L1106,352 M1080,360 L1094,352 L1108,360 M1086,326 L1098,340" stroke="#a034e0" stroke-width="1.6" fill="none" opacity="0.85"/>
<path d="M1094,320 L1102,316 L1106,322 Z" fill="#60d0f8" opacity="0.6"/></g>
<rect x="963" y="243" width="77" height="1.5" fill="#a8a8a8"/>
<rect x="1140" y="243" width="71" height="1.5" fill="#a8a8a8"/>
</g>
<g clip-path="url(#cQ4)">
<rect x="1211" y="243" width="246" height="215" fill="#00f4ff"/>
<rect x="1300" y="243" width="157" height="160" fill="url(#q4blue)"/>
<g filter="url(#cb10)"><path d="M1200,276 C1240,257 1300,254 1328,268 L1334,282 L1340,269 C1396,277 1448,324 1470,360 L1470,398 C1426,434 1372,446 1330,447 C1284,446 1236,428 1200,386 Z" fill="#90faff"/></g>
<g filter="url(#cb5)"><path d="M1205,284 C1242,266 1300,262 1326,275 L1332,290 L1338,276 C1392,284 1442,330 1462,364 L1462,392 C1420,425 1368,437 1330,438 C1290,437 1240,420 1205,378 Z" fill="#ffffff"/></g>
<g filter="url(#cb2)"><path d="M1326,348 L1334,342 L1342,341 L1350,346 L1356,352 L1360,362 L1357,372 L1346,376 L1334,377 L1326,372 L1320,366 L1316,360 L1322,355 Z" fill="#6070f0" opacity="0.8"/></g>
<g filter="url(#cb0)"><path d="M1328,351 L1338,345 L1348,348 L1355,357 L1355,368 L1345,373 L1333,373 L1325,366 L1323,358 Z" fill="#d030e4"/>
<path d="M1330,350 L1336,346 L1334,356 Z M1326,368 L1334,374 L1340,372 Z M1350,370 L1356,366 L1354,374 Z" fill="#3050f0"/>
<ellipse cx="1345" cy="350" rx="1.2" ry="2.5" fill="#ffffff"/>
<path d="M1340,368 L1350,360" stroke="#5040e0" stroke-width="1.2"/></g>
<rect x="1211" y="243" width="246" height="1.5" fill="#a8a8a8"/>
</g>
</svg>
</body></html>
